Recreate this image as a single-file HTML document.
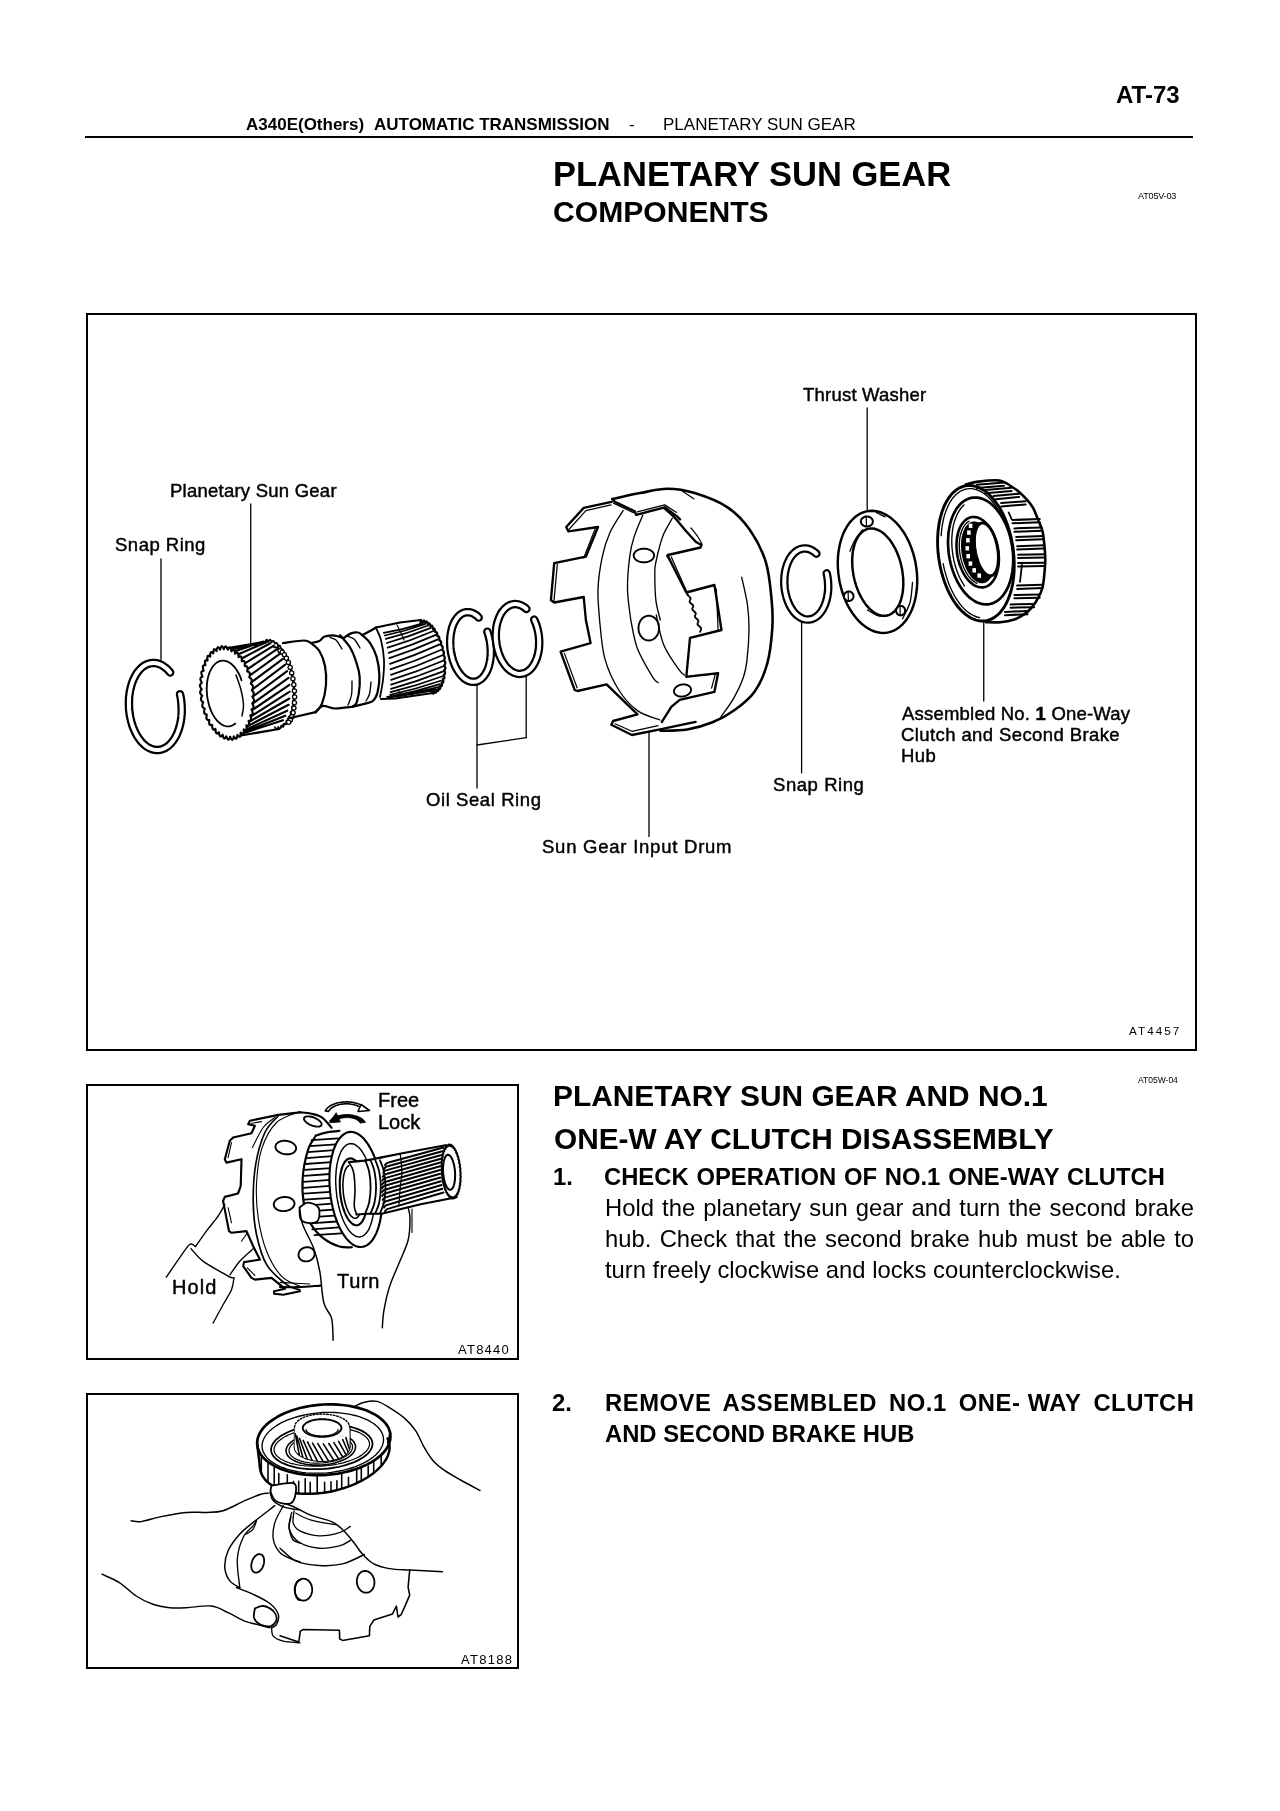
<!DOCTYPE html>
<html><head><meta charset="utf-8">
<style>
html,body{margin:0;padding:0;background:#fff;}
body{width:1280px;height:1811px;position:relative;overflow:hidden;-webkit-font-smoothing:antialiased;font-family:"Liberation Sans",sans-serif;color:#000;}
.t{position:absolute;white-space:pre;line-height:1;will-change:transform;}
.b{font-weight:bold;}
.box{position:absolute;border:2px solid #000;box-sizing:border-box;}
svg path,svg line,svg ellipse,svg polyline{fill:none;stroke:#000;stroke-linecap:round;stroke-linejoin:round;}
.lb{position:absolute;white-space:pre;line-height:1;font-size:18.5px;will-change:transform;-webkit-text-stroke:0.45px #000;}
.hr{position:absolute;background:#000;}
.p{position:absolute;will-change:transform;font-size:23.8px;line-height:31px;text-align:justify;text-align-last:left;}
</style></head><body>
<svg width="1280" height="1811" viewBox="0 0 1280 1811" style="position:absolute;left:0;top:0"><line x1="161" y1="559" x2="161" y2="662" stroke-width="1.3"/>
<line x1="250.7" y1="504" x2="250.7" y2="642.5" stroke-width="1.3"/>
<line x1="477" y1="685" x2="477" y2="788" stroke-width="1.3"/>
<line x1="526.2" y1="677" x2="526.2" y2="737.6" stroke-width="1.3"/>
<line x1="526.2" y1="737.6" x2="477" y2="745" stroke-width="1.3"/>
<line x1="649" y1="732" x2="649" y2="836.6" stroke-width="1.3"/>
<line x1="801.6" y1="617.5" x2="801.6" y2="772.8" stroke-width="1.3"/>
<line x1="867.2" y1="408" x2="867.2" y2="510.6" stroke-width="1.3"/>
<line x1="983.75" y1="621.5" x2="983.75" y2="701" stroke-width="1.3"/>
<path d="M180.0,694.2 L180.6,697.1 L181.1,700.1 L181.4,703.2 L181.6,706.2 L181.7,709.3 L181.7,712.3 L181.5,715.3 L181.2,718.3 L180.8,721.2 L180.2,724.0 L179.5,726.7 L178.7,729.4 L177.8,731.9 L176.8,734.3 L175.7,736.6 L174.4,738.7 L173.1,740.7 L171.7,742.5 L170.2,744.1 L168.7,745.6 L167.0,746.8 L165.3,747.9 L163.6,748.7 L161.8,749.4 L160.0,749.8 L158.2,750.0 L156.4,750.0 L154.5,749.8 L152.7,749.4 L150.8,748.7 L149.0,747.9 L147.2,746.9 L145.5,745.6 L143.8,744.2 L142.2,742.6 L140.6,740.8 L139.1,738.8 L137.7,736.7 L136.3,734.4 L135.1,732.0 L134.0,729.5 L132.9,726.9 L132.0,724.1 L131.2,721.3 L130.5,718.4 L129.9,715.4 L129.5,712.4 L129.1,709.4 L129.0,706.4 L128.9,703.3 L129.0,700.3 L129.1,697.3 L129.5,694.3 L129.9,691.4 L130.5,688.6 L131.2,685.9 L132.0,683.2 L132.9,680.7 L134.0,678.3 L135.1,676.1 L136.3,674.0 L137.7,672.0 L139.1,670.3 L140.6,668.7 L142.2,667.2 L143.8,666.0 L145.5,665.0 L147.2,664.2 L149.0,663.6 L150.8,663.2 L152.7,663.0 L154.5,663.0 L156.4,663.2 L158.2,663.7 L160.0,664.4 L161.8,665.2 L163.6,666.3 L165.3,667.6 L167.0,669.0 L168.7,670.7 L170.2,672.5" stroke-width="8.51" /><path d="M180.0,694.2 L180.6,697.1 L181.1,700.1 L181.4,703.2 L181.6,706.2 L181.7,709.3 L181.7,712.3 L181.5,715.3 L181.2,718.3 L180.8,721.2 L180.2,724.0 L179.5,726.7 L178.7,729.4 L177.8,731.9 L176.8,734.3 L175.7,736.6 L174.4,738.7 L173.1,740.7 L171.7,742.5 L170.2,744.1 L168.7,745.6 L167.0,746.8 L165.3,747.9 L163.6,748.7 L161.8,749.4 L160.0,749.8 L158.2,750.0 L156.4,750.0 L154.5,749.8 L152.7,749.4 L150.8,748.7 L149.0,747.9 L147.2,746.9 L145.5,745.6 L143.8,744.2 L142.2,742.6 L140.6,740.8 L139.1,738.8 L137.7,736.7 L136.3,734.4 L135.1,732.0 L134.0,729.5 L132.9,726.9 L132.0,724.1 L131.2,721.3 L130.5,718.4 L129.9,715.4 L129.5,712.4 L129.1,709.4 L129.0,706.4 L128.9,703.3 L129.0,700.3 L129.1,697.3 L129.5,694.3 L129.9,691.4 L130.5,688.6 L131.2,685.9 L132.0,683.2 L132.9,680.7 L134.0,678.3 L135.1,676.1 L136.3,674.0 L137.7,672.0 L139.1,670.3 L140.6,668.7 L142.2,667.2 L143.8,666.0 L145.5,665.0 L147.2,664.2 L149.0,663.6 L150.8,663.2 L152.7,663.0 L154.5,663.0 L156.4,663.2 L158.2,663.7 L160.0,664.4 L161.8,665.2 L163.6,666.3 L165.3,667.6 L167.0,669.0 L168.7,670.7 L170.2,672.5" stroke-width="4.03" style="stroke:#fff"/>
<path d="M487.3,631.7 L488.1,633.9 L488.7,636.2 L489.3,638.6 L489.8,640.9 L490.2,643.4 L490.5,645.8 L490.7,648.2 L490.8,650.6 L490.8,653.0 L490.7,655.4 L490.5,657.8 L490.2,660.0 L489.8,662.3 L489.3,664.4 L488.8,666.5 L488.1,668.4 L487.4,670.3 L486.5,672.0 L485.6,673.7 L484.6,675.2 L483.6,676.5 L482.5,677.7 L481.3,678.8 L480.1,679.7 L478.8,680.5 L477.5,681.1 L476.1,681.5 L474.8,681.7 L473.4,681.8 L472.0,681.7 L470.5,681.5 L469.1,681.1 L467.7,680.5 L466.3,679.7 L464.9,678.8 L463.6,677.8 L462.3,676.5 L461.0,675.2 L459.8,673.7 L458.6,672.1 L457.5,670.3 L456.4,668.4 L455.4,666.5 L454.5,664.4 L453.7,662.3 L452.9,660.1 L452.3,657.8 L451.7,655.4 L451.2,653.1 L450.8,650.6 L450.5,648.2 L450.3,645.8 L450.2,643.4 L450.2,641.0 L450.3,638.6 L450.5,636.2 L450.8,634.0 L451.2,631.7 L451.7,629.6 L452.2,627.5 L452.9,625.6 L453.6,623.7 L454.5,622.0 L455.4,620.3 L456.4,618.8 L457.4,617.5 L458.5,616.3 L459.7,615.2 L460.9,614.3 L462.2,613.5 L463.5,612.9 L464.9,612.5 L466.2,612.3 L467.6,612.2 L469.0,612.3 L470.5,612.5 L471.9,612.9 L473.3,613.5 L474.7,614.3 L476.1,615.2 L477.4,616.2 L478.7,617.5" stroke-width="8.51" /><path d="M487.3,631.7 L488.1,633.9 L488.7,636.2 L489.3,638.6 L489.8,640.9 L490.2,643.4 L490.5,645.8 L490.7,648.2 L490.8,650.6 L490.8,653.0 L490.7,655.4 L490.5,657.8 L490.2,660.0 L489.8,662.3 L489.3,664.4 L488.8,666.5 L488.1,668.4 L487.4,670.3 L486.5,672.0 L485.6,673.7 L484.6,675.2 L483.6,676.5 L482.5,677.7 L481.3,678.8 L480.1,679.7 L478.8,680.5 L477.5,681.1 L476.1,681.5 L474.8,681.7 L473.4,681.8 L472.0,681.7 L470.5,681.5 L469.1,681.1 L467.7,680.5 L466.3,679.7 L464.9,678.8 L463.6,677.8 L462.3,676.5 L461.0,675.2 L459.8,673.7 L458.6,672.1 L457.5,670.3 L456.4,668.4 L455.4,666.5 L454.5,664.4 L453.7,662.3 L452.9,660.1 L452.3,657.8 L451.7,655.4 L451.2,653.1 L450.8,650.6 L450.5,648.2 L450.3,645.8 L450.2,643.4 L450.2,641.0 L450.3,638.6 L450.5,636.2 L450.8,634.0 L451.2,631.7 L451.7,629.6 L452.2,627.5 L452.9,625.6 L453.6,623.7 L454.5,622.0 L455.4,620.3 L456.4,618.8 L457.4,617.5 L458.5,616.3 L459.7,615.2 L460.9,614.3 L462.2,613.5 L463.5,612.9 L464.9,612.5 L466.2,612.3 L467.6,612.2 L469.0,612.3 L470.5,612.5 L471.9,612.9 L473.3,613.5 L474.7,614.3 L476.1,615.2 L477.4,616.2 L478.7,617.5" stroke-width="4.03" style="stroke:#fff"/>
<path d="M534.2,619.6 L535.1,621.7 L536.0,623.9 L536.7,626.1 L537.4,628.5 L537.9,630.8 L538.4,633.2 L538.8,635.6 L539.0,638.1 L539.2,640.5 L539.2,643.0 L539.1,645.4 L539.0,647.8 L538.7,650.1 L538.3,652.4 L537.8,654.7 L537.2,656.8 L536.5,658.9 L535.7,660.8 L534.9,662.7 L533.9,664.4 L532.9,666.0 L531.8,667.5 L530.6,668.9 L529.4,670.0 L528.1,671.1 L526.7,672.0 L525.3,672.7 L523.9,673.2 L522.4,673.6 L520.9,673.8 L519.4,673.9 L517.9,673.7 L516.3,673.4 L514.8,673.0 L513.3,672.3 L511.8,671.5 L510.4,670.6 L509.0,669.4 L507.6,668.2 L506.2,666.8 L505.0,665.2 L503.8,663.5 L502.6,661.7 L501.5,659.8 L500.6,657.8 L499.6,655.7 L498.8,653.5 L498.1,651.2 L497.5,648.9 L496.9,646.5 L496.5,644.1 L496.2,641.7 L495.9,639.3 L495.8,636.8 L495.8,634.4 L495.9,632.0 L496.1,629.6 L496.4,627.2 L496.8,625.0 L497.3,622.8 L498.0,620.6 L498.7,618.6 L499.5,616.7 L500.4,614.8 L501.3,613.1 L502.4,611.6 L503.5,610.1 L504.7,608.8 L506.0,607.7 L507.3,606.7 L508.7,605.8 L510.1,605.1 L511.5,604.6 L513.0,604.3 L514.5,604.1 L516.0,604.1 L517.6,604.3 L519.1,604.7 L520.6,605.2 L522.1,605.9 L523.6,606.7 L525.0,607.7 L526.4,608.9" stroke-width="8.51" /><path d="M534.2,619.6 L535.1,621.7 L536.0,623.9 L536.7,626.1 L537.4,628.5 L537.9,630.8 L538.4,633.2 L538.8,635.6 L539.0,638.1 L539.2,640.5 L539.2,643.0 L539.1,645.4 L539.0,647.8 L538.7,650.1 L538.3,652.4 L537.8,654.7 L537.2,656.8 L536.5,658.9 L535.7,660.8 L534.9,662.7 L533.9,664.4 L532.9,666.0 L531.8,667.5 L530.6,668.9 L529.4,670.0 L528.1,671.1 L526.7,672.0 L525.3,672.7 L523.9,673.2 L522.4,673.6 L520.9,673.8 L519.4,673.9 L517.9,673.7 L516.3,673.4 L514.8,673.0 L513.3,672.3 L511.8,671.5 L510.4,670.6 L509.0,669.4 L507.6,668.2 L506.2,666.8 L505.0,665.2 L503.8,663.5 L502.6,661.7 L501.5,659.8 L500.6,657.8 L499.6,655.7 L498.8,653.5 L498.1,651.2 L497.5,648.9 L496.9,646.5 L496.5,644.1 L496.2,641.7 L495.9,639.3 L495.8,636.8 L495.8,634.4 L495.9,632.0 L496.1,629.6 L496.4,627.2 L496.8,625.0 L497.3,622.8 L498.0,620.6 L498.7,618.6 L499.5,616.7 L500.4,614.8 L501.3,613.1 L502.4,611.6 L503.5,610.1 L504.7,608.8 L506.0,607.7 L507.3,606.7 L508.7,605.8 L510.1,605.1 L511.5,604.6 L513.0,604.3 L514.5,604.1 L516.0,604.1 L517.6,604.3 L519.1,604.7 L520.6,605.2 L522.1,605.9 L523.6,606.7 L525.0,607.7 L526.4,608.9" stroke-width="4.03" style="stroke:#fff"/>
<path d="M826.7,573.3 L827.2,575.7 L827.6,578.2 L827.9,580.7 L828.1,583.2 L828.2,585.7 L828.2,588.2 L828.1,590.7 L827.8,593.1 L827.5,595.5 L827.0,597.9 L826.5,600.1 L825.8,602.3 L825.1,604.4 L824.2,606.4 L823.3,608.3 L822.3,610.1 L821.2,611.7 L820.0,613.2 L818.8,614.6 L817.5,615.8 L816.1,616.8 L814.7,617.7 L813.3,618.4 L811.8,619.0 L810.3,619.3 L808.7,619.5 L807.2,619.6 L805.6,619.4 L804.1,619.1 L802.6,618.6 L801.1,617.9 L799.6,617.0 L798.1,616.0 L796.7,614.9 L795.3,613.5 L794.0,612.1 L792.8,610.5 L791.6,608.7 L790.5,606.9 L789.4,604.9 L788.5,602.8 L787.6,600.6 L786.8,598.4 L786.2,596.0 L785.6,593.7 L785.1,591.2 L784.7,588.7 L784.5,586.3 L784.3,583.8 L784.3,581.2 L784.4,578.8 L784.5,576.3 L784.8,573.9 L785.2,571.5 L785.7,569.2 L786.3,566.9 L787.0,564.8 L787.8,562.7 L788.7,560.8 L789.6,558.9 L790.7,557.2 L791.8,555.6 L793.0,554.2 L794.3,552.9 L795.6,551.8 L797.0,550.8 L798.4,550.0 L799.9,549.3 L801.4,548.9 L802.9,548.6 L804.4,548.4 L806.0,548.5 L807.5,548.7 L809.0,549.1 L810.6,549.7 L812.1,550.5 L813.6,551.4 L815.0,552.4 L816.4,553.7" stroke-width="8.51" /><path d="M826.7,573.3 L827.2,575.7 L827.6,578.2 L827.9,580.7 L828.1,583.2 L828.2,585.7 L828.2,588.2 L828.1,590.7 L827.8,593.1 L827.5,595.5 L827.0,597.9 L826.5,600.1 L825.8,602.3 L825.1,604.4 L824.2,606.4 L823.3,608.3 L822.3,610.1 L821.2,611.7 L820.0,613.2 L818.8,614.6 L817.5,615.8 L816.1,616.8 L814.7,617.7 L813.3,618.4 L811.8,619.0 L810.3,619.3 L808.7,619.5 L807.2,619.6 L805.6,619.4 L804.1,619.1 L802.6,618.6 L801.1,617.9 L799.6,617.0 L798.1,616.0 L796.7,614.9 L795.3,613.5 L794.0,612.1 L792.8,610.5 L791.6,608.7 L790.5,606.9 L789.4,604.9 L788.5,602.8 L787.6,600.6 L786.8,598.4 L786.2,596.0 L785.6,593.7 L785.1,591.2 L784.7,588.7 L784.5,586.3 L784.3,583.8 L784.3,581.2 L784.4,578.8 L784.5,576.3 L784.8,573.9 L785.2,571.5 L785.7,569.2 L786.3,566.9 L787.0,564.8 L787.8,562.7 L788.7,560.8 L789.6,558.9 L790.7,557.2 L791.8,555.6 L793.0,554.2 L794.3,552.9 L795.6,551.8 L797.0,550.8 L798.4,550.0 L799.9,549.3 L801.4,548.9 L802.9,548.6 L804.4,548.4 L806.0,548.5 L807.5,548.7 L809.0,549.1 L810.6,549.7 L812.1,550.5 L813.6,551.4 L815.0,552.4 L816.4,553.7" stroke-width="4.03" style="stroke:#fff"/>
<path d="M224.6,649.2 L256.8,644.5 M228.8,650.1 L260.0,642.5 M232.8,652.1 L263.3,641.6 M236.7,655.1 L266.8,641.9 M240.4,659.2 L270.3,643.2 M243.7,664.1 L273.8,645.7 M246.5,669.8 L277.1,649.2 M248.9,676.2 L280.1,653.6 M250.7,682.9 L282.9,658.8 M251.8,689.9 L285.2,664.7 M252.3,697.0 L287.1,671.1 M252.1,704.0 L288.5,677.9 M251.3,710.7 L289.4,684.8 M249.9,717.0 L289.7,691.7 M247.8,722.6 L289.4,698.5 M245.2,727.4 L288.6,704.8 M242.1,731.4 L287.2,710.7 M238.6,734.3 L285.3,715.8 M234.8,736.1 L282.9,720.2" stroke-width="2.13" />
<path d="M222.0,649.0 L266.0,641.8" stroke-width="2.24" />
<path d="M232.0,737.0 L279.0,729.0" stroke-width="2.24" />
<path d="M251.8,690.2 L253.2,691.7 L253.9,693.5 L253.5,695.2 L252.3,696.7 L253.6,698.6 L254.1,700.5 L253.5,702.0 L252.2,703.2 L253.3,705.4 L253.7,707.3 L253.0,708.6 L251.5,709.4 L252.5,711.8 L252.7,713.8 L251.9,714.9 L250.3,715.3 L251.1,717.9 L251.1,719.8 L250.2,720.7 L248.6,720.7 L249.1,723.3 L249.0,725.2 L248.0,725.8 L246.4,725.4 L246.7,728.2 L246.4,729.9 L245.3,730.3 L243.7,729.4 L243.8,732.2 L243.3,733.8 L242.2,733.9 L240.7,732.7 L240.5,735.3 L239.9,736.8 L238.8,736.5 L237.4,735.0 L237.0,737.5 L236.2,738.8 L235.1,738.3 L233.8,736.4 L233.2,738.7 L232.3,739.8 L231.2,739.0 L230.1,736.8 L229.3,738.9 L228.3,739.7 L227.3,738.6 L226.3,736.3 L225.3,738.1 L224.3,738.6 L223.3,737.3 L222.6,734.7 L221.4,736.2 L220.3,736.5 L219.4,735.0 L218.9,732.3 L217.6,733.4 L216.4,733.4 L215.7,731.7 L215.4,728.9 L214.0,729.7 L212.8,729.3 L212.3,727.5 L212.2,724.8 L210.7,725.2 L209.5,724.5 L209.1,722.6 L209.3,720.0 L207.7,719.9 L206.6,719.0 L206.4,717.1 L206.8,714.5 L205.2,714.1 L204.2,712.9 L204.1,711.0 L204.7,708.6 L203.2,707.7 L202.3,706.4 L202.4,704.4 L203.2,702.3 L201.7,701.1 L200.9,699.5 L201.1,697.7 L202.2,695.8 L200.8,694.3 L200.1,692.5 L200.5,690.8 L201.7,689.3 L200.4,687.4 L199.9,685.5 L200.5,684.0 L201.8,682.8 L200.7,680.6 L200.3,678.7 L201.0,677.4 L202.5,676.6 L201.5,674.2 L201.3,672.2 L202.1,671.1 L203.7,670.7 L202.9,668.1 L202.9,666.2 L203.8,665.3 L205.4,665.3 L204.9,662.7 L205.0,660.8 L206.0,660.2 L207.6,660.6 L207.3,657.8 L207.6,656.1 L208.7,655.7 L210.3,656.6 L210.2,653.8 L210.7,652.2 L211.8,652.1 L213.3,653.3 L213.5,650.7 L214.1,649.2 L215.2,649.5 L216.6,651.0 L217.0,648.5 L217.8,647.2 L218.9,647.7 L220.2,649.6 L220.8,647.3 L221.7,646.2 L222.8,647.0 L223.9,649.2 L224.7,647.1 L225.7,646.3 L226.7,647.4 L227.7,649.7 L228.7,647.9 L229.7,647.4 L230.7,648.7 L231.4,651.3 L232.6,649.8 L233.7,649.5 L234.6,651.0 L235.1,653.7 L236.4,652.6 L237.6,652.6 L238.3,654.3 L238.6,657.1 L240.0,656.3 L241.2,656.7 L241.7,658.5 L241.8,661.2 L243.3,660.8 L244.5,661.5 L244.9,663.4 L244.7,666.0 L246.3,666.1 L247.4,667.0 L247.6,668.9 L247.2,671.5 L248.8,671.9 L249.8,673.1 L249.9,675.0 L249.3,677.4 L250.8,678.3 L251.7,679.6 L251.6,681.6 L250.8,683.7 L252.3,684.9 L253.1,686.5 L252.9,688.3 L251.8,690.2Z" stroke-width="2.13" style="fill:#fff"/>
<path d="M235.3,723.6 L234.1,724.4 L233.0,725.1 L231.7,725.7 L230.5,726.1 L229.2,726.3 L227.9,726.4 L226.6,726.3 L225.3,726.0 L223.9,725.6 L222.6,725.0 L221.3,724.2 L220.1,723.3 L218.8,722.3 L217.6,721.1 L216.4,719.8 L215.3,718.4 L214.2,716.8 L213.2,715.1 L212.2,713.3 L211.3,711.4 L210.5,709.4 L209.7,707.4 L209.1,705.3 L208.5,703.1 L208.0,700.8 L207.5,698.6 L207.2,696.3 L207.0,694.0 L206.8,691.7 L206.7,689.4 L206.8,687.1 L206.9,684.8 L207.1,682.6 L207.4,680.5 L207.8,678.4 L208.3,676.4 L208.9,674.4 L209.5,672.6 L210.3,670.9 L211.1,669.3 L211.9,667.8 L212.9,666.4 L213.9,665.2 L215.0,664.1 L216.1,663.1 L217.2,662.3 L218.4,661.7 L219.7,661.2 L221.0,660.8 L222.2,660.7 L223.6,660.7 L224.9,660.8 L226.2,661.1 L227.5,661.6 L228.8,662.3 L230.1,663.0 L231.4,664.0 L232.6,665.1 L233.8,666.3 L235.0,667.7 L236.1,669.1 L237.1,670.8 L238.1,672.5 L239.1,674.3 L240.0,676.2 L240.8,678.2 L241.5,680.3" stroke-width="1.79" />
<path d="M236.0,675.0 C236.8,677.5 239.8,685.0 241.0,690.0 C242.2,695.0 243.3,700.7 243.5,705.0 C243.7,709.3 242.2,714.2 242.0,716.0" stroke-width="1.46" />
<path d="M265.3,642.1 L265.9,640.4 L266.6,639.7 L267.5,640.2 L268.5,641.7 L269.2,640.2 L270.0,639.7 L270.8,640.5 L271.7,642.2 L272.5,641.0 L273.4,640.8 L274.2,641.8 L274.9,643.7 L275.8,642.8 L276.7,642.9 L277.5,644.1 L278.1,646.2 L279.1,645.6 L280.0,645.9 L280.6,647.3 L281.1,649.4 L282.1,649.2 L283.0,649.7 L283.6,651.3 L283.9,653.5 L285.0,653.6 L285.9,654.4 L286.3,656.1 L286.4,658.3 L287.5,658.7 L288.4,659.8 L288.7,661.5 L288.6,663.7 L289.7,664.4 L290.5,665.7 L290.7,667.5 L290.5,669.5 L291.5,670.6 L292.2,672.0 L292.3,673.8 L291.9,675.7 L292.9,677.1 L293.5,678.6 L293.4,680.4 L292.9,682.1 L293.8,683.7 L294.2,685.4 L294.0,687.0 L293.4,688.6 L294.2,690.4 L294.5,692.1 L294.2,693.7 L293.4,694.9 L294.0,696.9 L294.3,698.7 L293.8,700.1 L292.9,701.0 L293.4,703.1 L293.5,704.9 L292.9,706.1 L291.9,706.8 L292.3,709.0 L292.3,710.7 L291.6,711.7 L290.5,712.0 L290.8,714.2 L290.6,715.9 L289.8,716.6 L288.7,716.6 L288.8,718.8 L288.5,720.4 L287.6,720.8 L286.5,720.5 L286.4,722.6 L286.0,724.0 L285.1,724.2 L284.0,723.6 L283.7,725.6 L283.2,726.8 L282.3,726.7 L281.2,725.7 L280.8,727.6 L280.1,728.6 L279.2,728.3 L278.2,727.0 L277.6,728.7 L276.9,729.4 L276.0,728.8 L275.0,727.3" stroke-width="1.79" />
<path d="M274.1,647.3 L275.1,647.2 L276.2,647.3 L277.2,647.5 L278.3,648.0 L279.4,648.6 L280.5,649.4 L281.6,650.4 L282.6,651.6 L283.7,652.9 L284.7,654.4 L285.7,656.1 L286.7,657.9 L287.6,659.8 L288.5,661.8 L289.3,664.0 L290.1,666.3 L290.8,668.7 L291.5,671.2 L292.1,673.7 L292.7,676.3 L293.1,678.9 L293.6,681.6 L293.9,684.3 L294.2,687.0 L294.4,689.7 L294.5,692.4 L294.5,695.0 L294.5,697.7 L294.4,700.2 L294.2,702.7 L294.0,705.1 L293.7,707.4 L293.3,709.6 L292.8,711.7 L292.3,713.7 L291.7,715.5 L291.0,717.2 L290.3,718.7 L289.5,720.1 L288.7,721.3 L287.8,722.3 L286.9,723.2 L285.9,723.9 L284.9,724.4 L283.9,724.7 L282.9,724.8" stroke-width="1.79" />
<circle cx="280.0" cy="650.7" r="2.1" fill="#fff" stroke="#000" stroke-width="1.3"/>
<circle cx="282.2" cy="652.3" r="2.1" fill="#fff" stroke="#000" stroke-width="1.3"/>
<circle cx="284.4" cy="654.8" r="2.1" fill="#fff" stroke="#000" stroke-width="1.3"/>
<circle cx="286.4" cy="658.2" r="2.1" fill="#fff" stroke="#000" stroke-width="1.3"/>
<circle cx="288.4" cy="662.5" r="2.1" fill="#fff" stroke="#000" stroke-width="1.3"/>
<circle cx="290.2" cy="667.4" r="2.1" fill="#fff" stroke="#000" stroke-width="1.3"/>
<circle cx="291.7" cy="672.9" r="2.1" fill="#fff" stroke="#000" stroke-width="1.3"/>
<circle cx="292.9" cy="678.7" r="2.1" fill="#fff" stroke="#000" stroke-width="1.3"/>
<circle cx="293.8" cy="684.8" r="2.1" fill="#fff" stroke="#000" stroke-width="1.3"/>
<circle cx="294.4" cy="691.0" r="2.1" fill="#fff" stroke="#000" stroke-width="1.3"/>
<circle cx="294.6" cy="697.0" r="2.1" fill="#fff" stroke="#000" stroke-width="1.3"/>
<circle cx="294.4" cy="702.8" r="2.1" fill="#fff" stroke="#000" stroke-width="1.3"/>
<circle cx="293.9" cy="708.1" r="2.1" fill="#fff" stroke="#000" stroke-width="1.3"/>
<circle cx="293.1" cy="712.8" r="2.1" fill="#fff" stroke="#000" stroke-width="1.3"/>
<circle cx="291.9" cy="716.8" r="2.1" fill="#fff" stroke="#000" stroke-width="1.3"/>
<circle cx="290.4" cy="720.0" r="2.1" fill="#fff" stroke="#000" stroke-width="1.3"/>
<circle cx="288.6" cy="722.3" r="2.1" fill="#fff" stroke="#000" stroke-width="1.3"/>
<path d="M283.0,643.0 C286.5,642.6 299.3,640.5 304.0,640.5 C308.7,640.5 309.8,642.6 311.0,643.0" stroke-width="2.24" />
<path d="M311.0,643.0 C312.4,644.3 317.1,647.2 319.4,651.0 C321.7,654.8 323.9,660.3 325.0,666.0 C326.1,671.7 326.5,678.7 326.0,685.0 C325.5,691.3 323.7,699.2 322.0,703.7 C320.3,708.2 316.7,710.8 315.6,712.2" stroke-width="2.24" />
<path d="M288.0,718.5 L315.6,712.2" stroke-width="2.24" />
<path d="M311.0,643.0 C312.4,642.7 317.2,642.0 319.4,641.0 C321.6,640.0 321.8,637.7 324.0,636.7 C326.2,635.8 330.2,635.4 332.5,635.3 C334.8,635.2 336.1,635.8 338.0,636.3 C339.9,636.8 342.8,637.7 343.8,638.0" stroke-width="2.24" />
<path d="M340.0,635.3 C341.9,637.6 348.1,643.4 351.2,649.4 C354.4,655.4 357.3,665.1 358.8,671.0 C360.2,676.9 360.0,679.9 359.7,685.0 C359.4,690.1 358.0,698.3 356.9,701.9 C355.8,705.5 353.6,705.8 353.0,706.6" stroke-width="2.24" />
<path d="M315.6,712.2 C316.8,711.2 319.8,706.6 323.0,706.0 C326.2,705.4 330.0,708.4 335.0,708.5 C340.0,708.6 350.0,706.9 353.0,706.6" stroke-width="2.24" />
<path d="M330.0,637.5 C331.0,637.9 334.0,638.1 336.0,640.0 C338.0,641.9 341.0,647.5 342.0,649.0" stroke-width="1.34" />
<path d="M352.0,681.0 C351.9,683.3 352.2,691.0 351.5,695.0 C350.8,699.0 348.6,703.3 348.0,705.0" stroke-width="1.34" />
<path d="M343.8,638.0 C345.0,637.2 348.6,634.3 351.0,633.4 C353.4,632.5 356.1,632.2 358.0,632.5 C359.9,632.8 361.8,634.8 362.5,635.3" stroke-width="2.24" />
<path d="M362.5,635.3 C363.8,636.5 367.6,639.2 370.0,642.8 C372.4,646.4 375.0,651.4 376.6,656.9 C378.2,662.4 379.2,669.7 379.4,675.6 C379.5,681.5 378.6,688.3 377.5,692.5 C376.4,696.7 375.0,699.1 372.8,701.0 C370.6,702.9 365.8,703.3 364.4,703.8" stroke-width="2.24" />
<path d="M353.0,706.6 L364.4,703.8" stroke-width="2.24" />
<path d="M346.0,636.0 C347.3,636.5 351.7,637.0 354.0,639.0 C356.3,641.0 359.0,646.5 360.0,648.0" stroke-width="1.34" />
<path d="M371.0,682.0 C370.8,684.0 370.3,690.8 369.5,694.0 C368.7,697.2 366.6,699.8 366.0,701.0" stroke-width="1.34" />
<path d="M362.5,635.0 C363.8,634.3 367.8,632.2 370.0,631.0 C372.2,629.8 375.0,628.1 376.0,627.5" stroke-width="2.24" />
<path d="M376.0,627.5 L400.0,622.5 L420.9,620.0" stroke-width="2.24" />
<path d="M381.0,699.0 L395.0,698.5 L433.0,693.0" stroke-width="2.24" />
<path d="M420.4,622.7 L420.7,621.1 L421.2,620.4 L422.0,620.9 L422.8,622.4 L423.3,621.0 L423.9,620.5 L424.6,621.3 L425.3,623.0 L425.9,621.8 L426.6,621.5 L427.3,622.5 L427.9,624.2 L428.6,623.3 L429.3,623.3 L429.9,624.4 L430.5,626.3 L431.3,625.6 L432.0,625.7 L432.5,627.0 L432.9,628.9 L433.8,628.5 L434.6,628.9 L435.0,630.3 L435.3,632.2 L436.2,632.1 L436.9,632.7 L437.3,634.1 L437.4,636.1 L438.4,636.3 L439.1,637.0 L439.4,638.5 L439.4,640.4 L440.4,640.8 L441.0,641.8 L441.2,643.3 L441.0,645.0 L442.0,645.8 L442.6,646.9 L442.7,648.4 L442.4,650.0 L443.3,651.0 L443.9,652.2 L443.9,653.6 L443.4,655.0 L444.3,656.3 L444.8,657.6 L444.6,659.0 L444.1,660.2 L444.9,661.6 L445.3,663.0 L445.0,664.3 L444.3,665.2 L445.1,666.9 L445.4,668.3 L445.0,669.4 L444.2,670.1 L444.9,671.9 L445.1,673.4 L444.6,674.3 L443.8,674.7 L444.3,676.6 L444.4,678.0 L443.8,678.8 L442.9,678.9 L443.3,680.8 L443.3,682.2 L442.7,682.8 L441.7,682.6 L442.0,684.6 L441.8,685.9 L441.2,686.2 L440.2,685.8 L440.3,687.7 L440.1,688.9 L439.4,689.0 L438.4,688.3 L438.4,690.2 L438.0,691.2 L437.3,691.1 L436.3,690.1 L436.1,691.9 L435.7,692.8 L435.0,692.5 L434.1,691.2 L433.7,692.8 L433.2,693.6 L432.5,693.0 L431.6,691.6" stroke-width="2.24" />
<path d="M383.8,632.9 Q403.2,629.7 422.7,623.4 M384.8,635.5 Q405.1,631.3 425.4,624.0 M385.8,638.9 Q406.9,633.7 428.1,625.5 M386.8,643.0 Q408.8,636.9 430.8,627.9 M387.7,647.7 Q410.5,640.9 433.4,631.0 M388.6,652.8 Q412.2,645.3 435.8,634.9 M389.4,658.2 Q413.6,650.3 437.9,639.4 M390.0,663.8 Q414.9,655.6 439.8,644.4 M390.5,669.4 Q415.9,661.0 441.3,649.7 M390.9,674.8 Q416.6,666.5 442.4,655.2 M391.1,679.9 Q417.1,671.8 443.1,660.7 M391.1,684.6 Q417.2,676.9 443.4,666.2 M391.0,688.8 Q417.1,681.6 443.2,671.4 M390.7,692.2 Q416.6,685.7 442.5,676.2 M390.2,694.9 Q415.8,689.2 441.5,680.5 M389.6,696.8 Q414.8,692.0 440.0,684.1 M388.9,697.7 Q413.5,693.9 438.2,687.0 M388.1,697.7 Q412.1,694.9 436.1,689.1 M387.1,696.8 Q410.4,695.0 433.7,690.3" stroke-width="1.74" />
<path d="M376.0,628.0 C376.8,630.0 379.7,634.7 381.0,640.0 C382.3,645.3 383.7,653.3 384.0,660.0 C384.3,666.7 383.7,673.8 383.0,680.0 C382.3,686.2 380.5,694.2 380.0,697.0" stroke-width="1.79" />
<path d="M397.0,625.0 C397.7,626.3 399.8,630.5 401.0,633.0 C402.2,635.5 403.5,638.8 404.0,640.0" stroke-width="1.12" />
<path d="M398.0,690.0 L402.0,697.0" stroke-width="1.12" />
<path d="M612.2,499.1 L614.9,501.9 L634.6,511.2 L636.2,514.8" stroke-width="2.35" />
<path d="M613.5,503.2 L633.5,512.6" stroke-width="1.34" />
<path d="M636.2,514.8 L664.7,507.3 L676.7,516.1 L680.0,519.4" stroke-width="2.35" />
<path d="M637.3,511.9 L664.7,504.9 L676.2,512.3" stroke-width="1.34" />
<path d="M611.6,501.9 L583.7,507.9 L566.2,527.0 L568.4,531.4 L598.0,527.0 L585.9,556.6 L554.2,563.1 L550.9,600.3 L554.2,602.5 L583.7,597.0 L585.9,620.0" stroke-width="2.35" />
<path d="M611.1,504.9 L585.9,510.6 L569.3,529.0" stroke-width="1.23" />
<path d="M595.2,528.7 L583.7,557.9" stroke-width="1.23" />
<path d="M557.3,564.4 L554.0,600.9" stroke-width="1.23" />
<path d="M585.9,620.1 L590.6,643.1 L560.6,651.6 L574.7,690.0 L577.5,691.0 L606.6,684.4 L637.5,714.4 L613.1,721.0 L611.3,724.7 L631.9,735.0 L660.0,729.4 L695.6,721.9" stroke-width="2.35" />
<path d="M564.4,653.4 L577.1,687.8" stroke-width="1.23" />
<path d="M615.0,723.8 L631.9,731.3 L658.1,725.6" stroke-width="1.23" />
<path d="M623.1,510.6 C620.9,514.3 613.5,524.8 610.0,532.5 C606.5,540.2 604.3,547.1 602.3,556.6 C600.3,566.0 598.4,578.8 598.0,589.4 C597.5,599.9 599.3,614.9 599.6,620.0" stroke-width="1.34" />
<path d="M599.6,620.6 C600.5,626.9 601.5,646.6 604.7,658.1 C607.9,669.7 613.3,681.3 618.8,690.0 C624.2,698.8 630.6,705.6 637.5,710.6 C644.4,715.6 656.3,718.5 660.0,720.0" stroke-width="1.34" />
<path d="M642.8,515.0 C641.4,518.6 636.2,529.9 634.1,536.9 C631.9,543.8 630.8,547.8 629.7,556.6 C628.6,565.3 627.3,578.8 627.5,589.4 C627.7,599.9 630.2,614.9 630.8,620.0" stroke-width="1.34" />
<path d="M630.9,620.6 C632.0,625.3 633.9,639.4 637.5,648.8 C641.1,658.1 649.1,671.3 652.5,676.9 C655.9,682.5 657.2,681.6 658.1,682.5" stroke-width="1.34" />
<path d="M672.3,518.3 C670.7,521.4 665.2,529.6 662.5,536.9 C659.8,544.2 657.2,556.0 655.9,562.0 C654.7,568.0 654.8,566.6 654.8,573.0 C654.8,579.3 655.0,592.5 655.9,600.3 C656.8,608.1 659.6,616.7 660.3,620.0" stroke-width="1.34" />
<path d="M656.3,615.0 C657.5,620.0 660.0,635.9 663.8,645.0 C667.5,654.1 675.3,664.4 678.8,669.4 C682.2,674.4 683.4,674.1 684.4,675.0" stroke-width="1.34" />
<path d="M654.1,555.5 L654.1,556.0 L654.0,556.4 L653.9,556.9 L653.7,557.4 L653.5,557.8 L653.2,558.3 L652.9,558.7 L652.6,559.1 L652.2,559.5 L651.7,559.9 L651.2,560.2 L650.7,560.6 L650.2,560.9 L649.6,561.1 L649.0,561.4 L648.4,561.6 L647.7,561.8 L647.1,562.0 L646.4,562.1 L645.7,562.2 L645.0,562.3 L644.3,562.3 L643.5,562.3 L642.8,562.3 L642.1,562.2 L641.4,562.1 L640.7,562.0 L640.1,561.8 L639.4,561.6 L638.8,561.4 L638.2,561.1 L637.6,560.9 L637.1,560.6 L636.6,560.2 L636.1,559.9 L635.6,559.5 L635.2,559.1 L634.9,558.7 L634.6,558.3 L634.3,557.8 L634.1,557.4 L633.9,556.9 L633.8,556.4 L633.7,556.0 L633.7,555.5 L633.7,555.0 L633.8,554.6 L633.9,554.1 L634.1,553.6 L634.3,553.2 L634.6,552.7 L634.9,552.3 L635.2,551.9 L635.6,551.5 L636.1,551.1 L636.6,550.8 L637.1,550.4 L637.6,550.1 L638.2,549.9 L638.8,549.6 L639.4,549.4 L640.1,549.2 L640.7,549.0 L641.4,548.9 L642.1,548.8 L642.8,548.7 L643.5,548.7 L644.3,548.7 L645.0,548.7 L645.7,548.8 L646.4,548.9 L647.1,549.0 L647.7,549.2 L648.4,549.4 L649.0,549.6 L649.6,549.9 L650.2,550.1 L650.7,550.4 L651.2,550.8 L651.7,551.1 L652.2,551.5 L652.6,551.9 L652.9,552.3 L653.2,552.7 L653.5,553.2 L653.7,553.6 L653.9,554.1 L654.0,554.6 L654.1,555.0 L654.1,555.5" stroke-width="1.90" />
<path d="M659.0,628.1 L659.0,629.0 L658.9,629.8 L658.8,630.7 L658.7,631.5 L658.4,632.3 L658.2,633.1 L657.8,633.9 L657.5,634.7 L657.1,635.4 L656.6,636.1 L656.2,636.7 L655.6,637.3 L655.1,637.9 L654.5,638.4 L653.9,638.8 L653.3,639.2 L652.6,639.6 L651.9,639.9 L651.2,640.1 L650.5,640.3 L649.8,640.4 L649.1,640.5 L648.4,640.5 L647.7,640.4 L647.0,640.3 L646.3,640.1 L645.6,639.9 L644.9,639.6 L644.2,639.2 L643.6,638.8 L643.0,638.4 L642.4,637.9 L641.9,637.3 L641.3,636.7 L640.9,636.1 L640.4,635.4 L640.0,634.7 L639.7,633.9 L639.3,633.1 L639.1,632.3 L638.8,631.5 L638.7,630.7 L638.6,629.8 L638.5,629.0 L638.5,628.1 L638.5,627.2 L638.6,626.4 L638.7,625.5 L638.8,624.7 L639.1,623.9 L639.3,623.1 L639.7,622.3 L640.0,621.5 L640.4,620.8 L640.9,620.1 L641.3,619.5 L641.9,618.9 L642.4,618.3 L643.0,617.8 L643.6,617.4 L644.2,617.0 L644.9,616.6 L645.6,616.3 L646.3,616.1 L647.0,615.9 L647.7,615.8 L648.4,615.7 L649.1,615.7 L649.8,615.8 L650.5,615.9 L651.2,616.1 L651.9,616.3 L652.6,616.6 L653.3,617.0 L653.9,617.4 L654.5,617.8 L655.1,618.3 L655.6,618.9 L656.2,619.5 L656.6,620.1 L657.1,620.8 L657.5,621.5 L657.8,622.3 L658.2,623.1 L658.4,623.9 L658.7,624.7 L658.8,625.5 L658.9,626.4 L659.0,627.2 L659.0,628.1" stroke-width="1.90" />
<path d="M691.0,689.0 L691.0,689.4 L691.0,689.8 L691.0,690.3 L690.9,690.7 L690.8,691.1 L690.7,691.5 L690.5,692.0 L690.2,692.4 L690.0,692.8 L689.7,693.2 L689.3,693.5 L688.9,693.9 L688.5,694.2 L688.1,694.6 L687.6,694.9 L687.1,695.2 L686.6,695.4 L686.1,695.7 L685.6,695.9 L685.0,696.1 L684.4,696.2 L683.8,696.4 L683.2,696.5 L682.7,696.5 L682.1,696.6 L681.5,696.6 L680.9,696.6 L680.3,696.5 L679.7,696.5 L679.2,696.4 L678.6,696.2 L678.1,696.1 L677.6,695.9 L677.1,695.7 L676.7,695.4 L676.3,695.2 L675.9,694.9 L675.5,694.6 L675.2,694.3 L674.9,693.9 L674.6,693.6 L674.4,693.2 L674.3,692.8 L674.1,692.4 L674.0,692.0 L674.0,691.6 L674.0,691.2 L674.0,690.7 L674.1,690.3 L674.2,689.9 L674.3,689.5 L674.5,689.0 L674.8,688.6 L675.0,688.2 L675.3,687.8 L675.7,687.5 L676.1,687.1 L676.5,686.8 L676.9,686.4 L677.4,686.1 L677.9,685.8 L678.4,685.6 L678.9,685.3 L679.4,685.1 L680.0,684.9 L680.6,684.8 L681.2,684.6 L681.8,684.5 L682.3,684.5 L682.9,684.4 L683.5,684.4 L684.1,684.4 L684.7,684.5 L685.3,684.5 L685.8,684.6 L686.4,684.8 L686.9,684.9 L687.4,685.1 L687.9,685.3 L688.3,685.6 L688.7,685.8 L689.1,686.1 L689.5,686.4 L689.8,686.7 L690.1,687.1 L690.4,687.4 L690.6,687.8 L690.7,688.2 L690.9,688.6 L691.0,689.0" stroke-width="1.90" />
<path d="M664.0,508.0 C665.7,509.5 670.3,513.2 674.0,517.0 C677.7,520.8 682.3,526.8 686.0,531.0 C689.7,535.2 694.3,540.2 696.0,542.0" stroke-width="2.35" />
<path d="M691.0,528.0 C692.2,529.5 696.2,534.3 698.0,537.0 C699.8,539.7 701.3,542.8 702.0,544.0" stroke-width="1.23" />
<path d="M696.0,542.0 L701.5,545.0 L700.5,547.5 L668.0,555.0 L667.5,556.5" stroke-width="2.35" />
<path d="M667.5,555.4 L686.3,592.5 L714.4,585.0 L721.5,630.0 L690.0,637.9 L686.3,676.9 L718.1,673.1 L714.4,691.9 L679.7,699.8 L671.3,706.9 L661.9,721.9" stroke-width="2.35" />
<path d="M671.3,556.9 L688.1,594.8" stroke-width="1.23" />
<path d="M716.3,588.8 L718.1,630.0" stroke-width="1.23" />
<path d="M690.0,675.9 L715.3,674.1 L711.6,688.1" stroke-width="1.23" />
<path d="M687.0,594.4 C687.6,595.0 690.1,596.9 690.6,598.1 C691.0,599.4 689.2,600.6 689.6,601.9 C690.1,603.1 692.8,604.4 693.2,605.6 C693.6,606.9 691.8,608.1 692.3,609.4 C692.7,610.6 695.4,611.9 695.8,613.1 C696.3,614.4 694.4,615.6 694.9,616.9 C695.3,618.1 698.0,619.4 698.4,620.6 C698.9,621.9 697.1,623.1 697.5,624.4 C697.9,625.6 700.6,626.9 701.1,628.1 C701.5,629.4 700.3,631.3 700.1,631.9" stroke-width="1.79" />
<path d="M612.2,499.1 C616.8,498.1 630.8,494.8 640.0,493.1 C649.2,491.4 658.2,488.8 667.3,488.8 C676.4,488.8 684.7,490.0 694.7,493.1 C704.7,496.2 718.4,501.3 727.5,507.3 C736.6,513.3 743.0,520.1 749.4,529.2 C755.8,538.3 762.1,550.2 765.8,562.0 C769.5,573.8 770.5,589.0 771.6,600.0 C772.7,611.0 773.0,617.6 772.3,628.1 C771.6,638.6 770.2,652.8 767.3,663.3 C764.4,673.8 760.1,683.7 754.7,691.4 C749.3,699.1 742.0,704.6 735.0,709.7 C728.0,714.9 720.5,719.0 712.5,722.3 C704.5,725.6 695.9,728.0 687.2,729.4 C678.5,730.8 665.0,730.6 660.5,730.8" stroke-width="2.58" />
<path d="M741.7,577.3 C742.7,581.9 746.3,596.2 747.5,605.0 C748.7,613.8 749.1,620.8 749.0,630.0 C748.9,639.2 747.9,652.1 747.0,660.0 C746.1,667.9 745.6,670.9 743.4,677.3 C741.2,683.7 737.3,691.8 733.6,698.4 C729.9,705.0 723.1,713.7 721.0,716.7" stroke-width="1.34" />
<path d="M682.5,491.3 L693.8,498.8" stroke-width="1.23" />
<path d="M916.0,565.8 L916.6,570.0 L917.0,574.3 L917.2,578.5 L917.2,582.8 L917.0,586.9 L916.6,591.0 L916.0,595.0 L915.3,598.9 L914.3,602.6 L913.2,606.2 L911.9,609.7 L910.4,612.9 L908.8,616.0 L907.0,618.8 L905.1,621.4 L903.0,623.8 L900.8,625.9 L898.6,627.8 L896.2,629.3 L893.7,630.6 L891.1,631.6 L888.5,632.4 L885.8,632.8 L883.0,632.9 L880.3,632.8 L877.5,632.3 L874.7,631.5 L872.0,630.5 L869.3,629.1 L866.6,627.5 L863.9,625.6 L861.4,623.5 L858.9,621.1 L856.5,618.5 L854.2,615.6 L852.0,612.5 L849.9,609.2 L848.0,605.8 L846.2,602.2 L844.6,598.4 L843.1,594.5 L841.8,590.5 L840.7,586.4 L839.7,582.2 L839.0,578.0 L838.4,573.7 L838.0,569.5 L837.8,565.2 L837.8,561.0 L838.0,556.8 L838.4,552.7 L839.0,548.7 L839.7,544.9 L840.7,541.1 L841.8,537.5 L843.1,534.1 L844.6,530.8 L846.2,527.8 L848.0,524.9 L849.9,522.3 L852.0,520.0 L854.2,517.8 L856.4,516.0 L858.8,514.4 L861.3,513.1 L863.9,512.1 L866.5,511.4 L869.2,511.0 L872.0,510.8 L874.7,511.0 L877.5,511.5 L880.3,512.2 L883.0,513.3 L885.7,514.6 L888.4,516.2 L891.1,518.1 L893.6,520.3 L896.1,522.7 L898.5,525.3 L900.8,528.2 L903.0,531.2 L905.1,534.5 L907.0,538.0 L908.8,541.6 L910.4,545.4 L911.9,549.3 L913.2,553.3 L914.3,557.4 L915.3,561.6 L916.0,565.8" stroke-width="2.46" />
<path d="M901.6,567.1 L902.2,570.1 L902.6,573.1 L903.0,576.2 L903.2,579.2 L903.3,582.2 L903.3,585.1 L903.1,588.0 L902.9,590.8 L902.5,593.5 L901.9,596.1 L901.3,598.6 L900.6,601.0 L899.7,603.2 L898.7,605.3 L897.7,607.2 L896.5,608.9 L895.2,610.5 L893.9,611.8 L892.5,613.0 L891.0,614.0 L889.4,614.8 L887.8,615.3 L886.1,615.7 L884.4,615.8 L882.7,615.8 L880.9,615.5 L879.2,615.0 L877.4,614.3 L875.6,613.4 L873.8,612.2 L872.1,610.9 L870.3,609.4 L868.7,607.8 L867.0,605.9 L865.4,603.9 L863.9,601.7 L862.4,599.4 L861.0,597.0 L859.7,594.4 L858.5,591.7 L857.4,589.0 L856.3,586.1 L855.4,583.2 L854.6,580.2 L853.9,577.2 L853.3,574.2 L852.9,571.1 L852.5,568.1 L852.3,565.0 L852.2,562.0 L852.2,559.1 L852.4,556.2 L852.6,553.4 L853.0,550.7 L853.6,548.1 L854.2,545.6 L854.9,543.3 L855.8,541.0 L856.8,539.0 L857.8,537.1 L859.0,535.3 L860.3,533.8 L861.6,532.4 L863.0,531.2 L864.5,530.3 L866.1,529.5 L867.7,528.9 L869.4,528.6 L871.1,528.4 L872.8,528.5 L874.6,528.8 L876.3,529.3 L878.1,530.0 L879.9,530.9 L881.7,532.0 L883.4,533.3 L885.2,534.8 L886.8,536.5 L888.5,538.3 L890.1,540.3 L891.6,542.5 L893.1,544.8 L894.5,547.3 L895.8,549.8 L897.0,552.5 L898.1,555.3 L899.2,558.1 L900.1,561.1 L900.9,564.0 L901.6,567.1" stroke-width="2.46" />
<path d="M850.0,551.2 C850.8,549.4 852.9,543.5 855.0,540.0 C857.1,536.5 861.2,531.7 862.5,530.0" stroke-width="1.34" />
<path d="M867.5,610.0 C869.0,610.8 873.8,614.0 876.2,615.0 C878.8,616.0 881.5,616.0 882.5,616.2" stroke-width="1.34" />
<path d="M912.5,582.5 C912.1,585.8 911.7,596.5 910.0,602.5 C908.3,608.5 903.8,616.0 902.5,618.8" stroke-width="1.34" />
<path d="M876.2,512.5 L885.0,516.9" stroke-width="1.34" />
<path d="M872.9,521.5 L872.9,521.8 L872.8,522.2 L872.7,522.5 L872.6,522.9 L872.5,523.2 L872.4,523.5 L872.2,523.8 L872.0,524.1 L871.7,524.4 L871.5,524.7 L871.2,525.0 L870.9,525.2 L870.6,525.4 L870.2,525.6 L869.9,525.8 L869.5,526.0 L869.1,526.1 L868.7,526.3 L868.3,526.4 L867.9,526.4 L867.5,526.5 L867.1,526.5 L866.7,526.5 L866.2,526.5 L865.8,526.4 L865.4,526.4 L865.0,526.3 L864.6,526.1 L864.2,526.0 L863.9,525.8 L863.5,525.6 L863.2,525.4 L862.9,525.2 L862.6,525.0 L862.3,524.7 L862.0,524.4 L861.8,524.1 L861.6,523.8 L861.4,523.5 L861.2,523.2 L861.1,522.9 L861.0,522.5 L860.9,522.2 L860.9,521.8 L860.9,521.5 L860.9,521.2 L860.9,520.8 L861.0,520.5 L861.1,520.1 L861.2,519.8 L861.4,519.5 L861.6,519.2 L861.8,518.9 L862.0,518.6 L862.3,518.3 L862.6,518.0 L862.9,517.8 L863.2,517.6 L863.5,517.4 L863.9,517.2 L864.2,517.0 L864.6,516.9 L865.0,516.7 L865.4,516.6 L865.8,516.6 L866.2,516.5 L866.7,516.5 L867.1,516.5 L867.5,516.5 L867.9,516.6 L868.3,516.6 L868.7,516.7 L869.1,516.9 L869.5,517.0 L869.9,517.2 L870.2,517.4 L870.6,517.6 L870.9,517.8 L871.2,518.0 L871.5,518.3 L871.7,518.6 L872.0,518.9 L872.2,519.2 L872.4,519.5 L872.5,519.8 L872.6,520.1 L872.7,520.5 L872.8,520.8 L872.9,521.2 L872.9,521.5" stroke-width="2.02" style="fill:#fff"/>
<path d="M866.2,517.1 L866.5,525.9" stroke-width="1.23" />
<path d="M853.5,596.2 L853.5,596.6 L853.5,596.9 L853.4,597.2 L853.3,597.6 L853.2,597.9 L853.1,598.2 L852.9,598.5 L852.8,598.8 L852.6,599.0 L852.4,599.3 L852.2,599.5 L851.9,599.8 L851.7,600.0 L851.4,600.2 L851.1,600.4 L850.8,600.5 L850.5,600.7 L850.2,600.8 L849.9,600.9 L849.6,600.9 L849.2,601.0 L848.9,601.0 L848.6,601.0 L848.3,601.0 L847.9,600.9 L847.6,600.9 L847.3,600.8 L847.0,600.7 L846.7,600.5 L846.4,600.4 L846.1,600.2 L845.8,600.0 L845.6,599.8 L845.3,599.5 L845.1,599.3 L844.9,599.0 L844.7,598.8 L844.6,598.5 L844.4,598.2 L844.3,597.9 L844.2,597.6 L844.1,597.2 L844.0,596.9 L844.0,596.6 L844.0,596.2 L844.0,595.9 L844.0,595.6 L844.1,595.3 L844.2,594.9 L844.3,594.6 L844.4,594.3 L844.6,594.0 L844.7,593.7 L844.9,593.5 L845.1,593.2 L845.3,593.0 L845.6,592.7 L845.8,592.5 L846.1,592.3 L846.4,592.1 L846.7,592.0 L847.0,591.8 L847.3,591.7 L847.6,591.6 L847.9,591.6 L848.3,591.5 L848.6,591.5 L848.9,591.5 L849.2,591.5 L849.6,591.6 L849.9,591.6 L850.2,591.7 L850.5,591.8 L850.8,592.0 L851.1,592.1 L851.4,592.3 L851.7,592.5 L851.9,592.7 L852.2,593.0 L852.4,593.2 L852.6,593.5 L852.8,593.7 L852.9,594.0 L853.1,594.3 L853.2,594.6 L853.3,594.9 L853.4,595.3 L853.5,595.6 L853.5,595.9 L853.5,596.2" stroke-width="2.02" style="fill:#fff"/>
<path d="M848.1,592.1 L848.4,600.4" stroke-width="1.23" />
<path d="M905.1,610.6 L905.1,611.0 L905.1,611.3 L905.0,611.6 L905.0,611.9 L904.9,612.2 L904.7,612.6 L904.6,612.9 L904.4,613.1 L904.3,613.4 L904.1,613.7 L903.9,613.9 L903.6,614.2 L903.4,614.4 L903.1,614.6 L902.9,614.7 L902.6,614.9 L902.3,615.0 L902.0,615.1 L901.7,615.2 L901.4,615.3 L901.1,615.3 L900.8,615.4 L900.5,615.4 L900.2,615.3 L899.8,615.3 L899.5,615.2 L899.2,615.1 L898.9,615.0 L898.7,614.9 L898.4,614.7 L898.1,614.6 L897.9,614.4 L897.6,614.2 L897.4,613.9 L897.2,613.7 L897.0,613.4 L896.8,613.1 L896.7,612.9 L896.5,612.6 L896.4,612.2 L896.3,611.9 L896.2,611.6 L896.2,611.3 L896.1,611.0 L896.1,610.6 L896.1,610.3 L896.2,610.0 L896.2,609.6 L896.3,609.3 L896.4,609.0 L896.5,608.7 L896.7,608.4 L896.8,608.1 L897.0,607.8 L897.2,607.6 L897.4,607.3 L897.6,607.1 L897.9,606.9 L898.1,606.7 L898.4,606.5 L898.7,606.4 L898.9,606.2 L899.2,606.1 L899.5,606.0 L899.8,605.9 L900.2,605.9 L900.5,605.9 L900.8,605.9 L901.1,605.9 L901.4,605.9 L901.7,606.0 L902.0,606.1 L902.3,606.2 L902.6,606.4 L902.9,606.5 L903.1,606.7 L903.4,606.9 L903.6,607.1 L903.9,607.3 L904.1,607.6 L904.3,607.8 L904.4,608.1 L904.6,608.4 L904.7,608.7 L904.9,609.0 L905.0,609.3 L905.0,609.6 L905.1,610.0 L905.1,610.3 L905.1,610.6" stroke-width="2.02" style="fill:#fff"/>
<path d="M900.0,606.5 L900.2,614.8" stroke-width="1.23" />
<path d="M965.6,484.4 C967.8,483.9 973.7,482.3 978.7,481.6 C983.7,480.9 991.6,480.2 995.6,480.2 C999.7,480.2 1000.8,480.7 1003.1,481.6 C1005.5,482.4 1007.0,483.6 1009.7,485.3 C1012.3,487.0 1016.2,489.5 1019.1,491.9 C1021.9,494.2 1024.2,496.7 1026.6,499.4 C1028.9,502.0 1031.2,504.5 1033.1,507.8 C1035.0,511.1 1036.2,515.2 1037.8,519.1 C1039.4,523.0 1041.4,526.9 1042.5,531.2 C1043.6,535.6 1043.9,540.6 1044.4,545.3 C1044.8,550.0 1045.3,554.7 1045.3,559.4 C1045.3,564.1 1044.8,568.7 1044.4,573.4 C1043.9,578.1 1043.6,583.3 1042.5,587.5 C1041.4,591.7 1039.7,595.3 1037.8,598.7 C1035.9,602.2 1033.6,605.5 1031.2,608.1 C1028.9,610.8 1026.6,612.8 1023.7,614.7 C1020.9,616.6 1018.3,618.1 1014.4,619.4 C1010.5,620.6 1005.0,621.7 1000.3,622.2 C995.6,622.7 988.6,622.2 986.2,622.2" stroke-width="2.58" />
<path d="M1013.1,548.1 L1013.6,552.8 L1014.0,557.5 L1014.2,562.2 L1014.2,566.9 L1014.1,571.5 L1013.7,576.0 L1013.2,580.4 L1012.5,584.7 L1011.6,588.8 L1010.5,592.7 L1009.2,596.5 L1007.8,600.0 L1006.3,603.3 L1004.6,606.4 L1002.7,609.2 L1000.8,611.7 L998.7,614.0 L996.4,615.9 L994.1,617.6 L991.7,618.9 L989.3,619.9 L986.7,620.6 L984.1,621.0 L981.5,621.0 L978.8,620.7 L976.2,620.1 L973.5,619.2 L970.8,617.9 L968.2,616.3 L965.6,614.4 L963.0,612.2 L960.6,609.7 L958.1,607.0 L955.8,604.0 L953.6,600.7 L951.5,597.2 L949.5,593.5 L947.6,589.6 L945.9,585.5 L944.3,581.3 L942.9,576.9 L941.6,572.4 L940.5,567.9 L939.6,563.2 L938.8,558.5 L938.2,553.8 L937.8,549.0 L937.6,544.3 L937.6,539.7 L937.8,535.1 L938.1,530.6 L938.7,526.2 L939.4,521.9 L940.3,517.8 L941.4,513.8 L942.6,510.1 L944.0,506.5 L945.6,503.2 L947.3,500.2 L949.1,497.4 L951.1,494.8 L953.2,492.6 L955.4,490.6 L957.7,489.0 L960.1,487.6 L962.6,486.6 L965.1,485.9 L967.7,485.6 L970.4,485.5 L973.0,485.8 L975.7,486.4 L978.4,487.4 L981.0,488.7 L983.7,490.2 L986.3,492.1 L988.8,494.3 L991.3,496.8 L993.7,499.6 L996.0,502.6 L998.3,505.8 L1000.4,509.3 L1002.4,513.0 L1004.3,516.9 L1006.0,521.0 L1007.6,525.3 L1009.0,529.6 L1010.3,534.1 L1011.4,538.7 L1012.3,543.4 L1013.1,548.1" stroke-width="2.91" style="fill:#fff"/>
<path d="M941.2,535.7 L941.5,531.4 L942.0,527.1 L942.7,523.0 L943.5,519.0 L944.5,515.2 L945.7,511.6 L947.0,508.2 L948.5,505.0 L950.1,502.1 L951.8,499.4 L953.7,497.0 L955.7,494.9 L957.8,493.1 L960.0,491.5 L962.2,490.3 L964.6,489.4 L967.0,488.8 L969.4,488.6 L971.9,488.7 L974.4,489.1 L976.9,489.8 L979.4,490.8 L981.9,492.2 L984.4,493.8 L986.8,495.8 L989.2,498.0 L991.5,500.5 L993.8,503.3 L996.0,506.4 L998.0,509.6 L1000.0,513.1 L1001.8,516.8" stroke-width="1.34" />
<path d="M979.6,617.7 L977.0,617.0 L974.4,616.0 L971.8,614.7 L969.3,613.1 L966.8,611.2 L964.3,608.9 L961.9,606.4 L959.6,603.5 L957.4,600.4 L955.3,597.1 L953.3,593.5 L951.4,589.7 L949.6,585.7 L948.0,581.6 L946.6,577.3 L945.3,572.9 L944.1,568.3 L943.2,563.7" stroke-width="1.34" />
<path d="M1012.1,545.9 L1012.6,549.7 L1013.0,553.4 L1013.2,557.1 L1013.2,560.8 L1013.1,564.5 L1012.8,568.0 L1012.4,571.5 L1011.8,574.9 L1011.0,578.2 L1010.2,581.3 L1009.1,584.3 L1008.0,587.2 L1006.7,589.8 L1005.2,592.3 L1003.7,594.6 L1002.0,596.6 L1000.2,598.4 L998.4,600.0 L996.4,601.4 L994.4,602.5 L992.3,603.4 L990.1,604.0 L988.0,604.3 L985.7,604.4 L983.5,604.2 L981.2,603.8 L978.9,603.1 L976.6,602.2 L974.4,601.0 L972.2,599.5 L970.0,597.9 L967.9,596.0 L965.8,593.8 L963.8,591.5 L961.9,589.0 L960.1,586.3 L958.4,583.4 L956.8,580.3 L955.3,577.1 L953.9,573.8 L952.7,570.4 L951.6,566.9 L950.6,563.3 L949.8,559.6 L949.1,555.9 L948.6,552.2 L948.3,548.5 L948.1,544.7 L948.0,541.1 L948.2,537.4 L948.4,533.8 L948.9,530.3 L949.5,527.0 L950.2,523.7 L951.1,520.5 L952.1,517.5 L953.3,514.7 L954.6,512.1 L956.0,509.6 L957.6,507.3 L959.2,505.3 L961.0,503.4 L962.9,501.8 L964.8,500.5 L966.9,499.4 L968.9,498.5 L971.1,497.9 L973.3,497.6 L975.5,497.5 L977.8,497.6 L980.1,498.1 L982.3,498.8 L984.6,499.7 L986.8,500.9 L989.1,502.3 L991.2,504.0 L993.4,505.9 L995.4,508.0 L997.4,510.4 L999.3,512.9 L1001.1,515.6 L1002.9,518.5 L1004.5,521.5 L1006.0,524.7 L1007.3,528.0 L1008.6,531.5 L1009.7,535.0 L1010.6,538.6 L1011.4,542.2 L1012.1,545.9" stroke-width="2.69" />
<path d="M964.5,586.0 L962.9,583.4 L961.3,580.7 L959.8,577.7 L958.4,574.7 L957.2,571.5 L956.0,568.2 L955.0,564.8 L954.1,561.3 L953.4,557.8 L952.8,554.3 L952.3,550.7 L952.0,547.2 L951.8,543.6 L951.8,540.1 L951.9,536.6 L952.2,533.2 L952.6,529.9 L953.1,526.7 L953.8,523.6 L954.7,520.7 L955.7,517.9 L956.8,515.3 L958.0,512.8 L959.3,510.6 L960.8,508.5 L962.3,506.6 L964.0,505.0" stroke-width="1.34" />
<path d="M998.0,548.6 L998.4,551.1 L998.6,553.5 L998.8,556.0 L998.9,558.4 L998.9,560.8 L998.7,563.2 L998.5,565.5 L998.2,567.7 L997.7,569.9 L997.2,572.0 L996.6,574.0 L995.9,575.9 L995.1,577.6 L994.2,579.3 L993.2,580.8 L992.1,582.1 L991.0,583.4 L989.8,584.4 L988.6,585.4 L987.3,586.1 L986.0,586.7 L984.6,587.1 L983.2,587.4 L981.7,587.4 L980.3,587.3 L978.8,587.1 L977.3,586.6 L975.8,586.0 L974.4,585.3 L972.9,584.4 L971.5,583.3 L970.1,582.0 L968.7,580.6 L967.4,579.1 L966.1,577.5 L964.9,575.7 L963.8,573.8 L962.7,571.8 L961.7,569.7 L960.8,567.6 L959.9,565.3 L959.1,563.0 L958.5,560.6 L957.9,558.2 L957.4,555.8 L957.0,553.3 L956.8,550.9 L956.6,548.4 L956.5,546.0 L956.5,543.6 L956.7,541.2 L956.9,538.9 L957.2,536.7 L957.7,534.5 L958.2,532.4 L958.8,530.4 L959.5,528.5 L960.3,526.8 L961.2,525.1 L962.2,523.6 L963.3,522.3 L964.4,521.0 L965.6,520.0 L966.8,519.0 L968.1,518.3 L969.4,517.7 L970.8,517.3 L972.2,517.0 L973.7,517.0 L975.1,517.1 L976.6,517.3 L978.1,517.8 L979.6,518.4 L981.0,519.1 L982.5,520.0 L983.9,521.1 L985.3,522.4 L986.7,523.8 L988.0,525.3 L989.3,526.9 L990.5,528.7 L991.6,530.6 L992.7,532.6 L993.7,534.7 L994.6,536.8 L995.5,539.1 L996.3,541.4 L996.9,543.8 L997.5,546.2 L998.0,548.6" stroke-width="2.58" />
<path d="M977.0,583.3 L975.7,582.7 L974.4,581.9 L973.1,580.9 L971.9,579.8 L970.7,578.6 L969.5,577.3 L968.3,575.8 L967.2,574.2 L966.2,572.4 L965.2,570.6 L964.3,568.7 L963.4,566.7 L962.6,564.7 L961.9,562.5 L961.3,560.4 L960.7,558.1 L960.3,555.9 L959.9,553.6 L959.6,551.4 L959.4,549.1 L959.3,546.8 L959.3,544.6 L959.4,542.4 L959.5,540.3 L959.8,538.2 L960.1,536.2 L960.6,534.2 L961.1,532.4 L961.7,530.7 L962.4,529.0 L963.2,527.5 L964.0,526.1 L964.9,524.9 L965.9,523.7 L966.9,522.7 L968.0,521.9 L969.1,521.2" stroke-width="1.34" />
<path d="M994.5,549.5 L994.9,551.7 L995.1,553.8 L995.3,556.0 L995.4,558.1 L995.4,560.2 L995.3,562.3 L995.2,564.3 L994.9,566.2 L994.6,568.1 L994.2,569.9 L993.7,571.7 L993.2,573.3 L992.5,574.8 L991.8,576.3 L991.1,577.6 L990.2,578.8 L989.3,579.8 L988.4,580.7 L987.4,581.5 L986.4,582.2 L985.3,582.7 L984.2,583.0 L983.0,583.2 L981.9,583.3 L980.7,583.2 L979.5,582.9 L978.3,582.5 L977.1,582.0 L975.9,581.3 L974.7,580.5 L973.6,579.5 L972.4,578.4 L971.3,577.2 L970.2,575.8 L969.2,574.4 L968.2,572.8 L967.2,571.1 L966.3,569.4 L965.5,567.5 L964.7,565.6 L964.0,563.6 L963.3,561.6 L962.8,559.5 L962.3,557.4 L961.9,555.3 L961.5,553.1 L961.3,551.0 L961.1,548.8 L961.0,546.7 L961.0,544.6 L961.1,542.5 L961.2,540.5 L961.5,538.6 L961.8,536.7 L962.2,534.9 L962.7,533.1 L963.2,531.5 L963.9,530.0 L964.6,528.5 L965.3,527.2 L966.2,526.0 L967.1,525.0 L968.0,524.1 L969.0,523.3 L970.0,522.6 L971.1,522.1 L972.2,521.8 L973.4,521.6 L974.5,521.5 L975.7,521.6 L976.9,521.9 L978.1,522.3 L979.3,522.8 L980.5,523.5 L981.7,524.3 L982.8,525.3 L984.0,526.4 L985.1,527.6 L986.2,529.0 L987.2,530.4 L988.2,532.0 L989.2,533.7 L990.1,535.4 L990.9,537.3 L991.7,539.2 L992.4,541.2 L993.1,543.2 L993.6,545.3 L994.1,547.4 L994.5,549.5Z" stroke-width="0.11" style="fill:#000;stroke:none"/>
<path d="M997.4,547.5 L997.7,549.3 L998.0,551.1 L998.2,553.0 L998.3,554.8 L998.4,556.6 L998.4,558.4 L998.3,560.1 L998.2,561.7 L998.1,563.3 L997.8,564.9 L997.6,566.3 L997.2,567.7 L996.9,569.0 L996.4,570.2 L995.9,571.3 L995.4,572.3 L994.8,573.1 L994.2,573.9 L993.6,574.5 L992.9,575.1 L992.2,575.4 L991.4,575.7 L990.7,575.8 L989.9,575.9 L989.1,575.7 L988.2,575.5 L987.4,575.1 L986.6,574.6 L985.7,574.0 L984.9,573.2 L984.1,572.4 L983.3,571.4 L982.5,570.3 L981.7,569.1 L980.9,567.9 L980.2,566.5 L979.5,565.0 L978.8,563.5 L978.2,561.9 L977.6,560.3 L977.1,558.5 L976.6,556.8 L976.1,555.0 L975.7,553.2 L975.4,551.3 L975.1,549.5 L974.8,547.7 L974.6,545.8 L974.5,544.0 L974.4,542.2 L974.4,540.4 L974.5,538.7 L974.6,537.1 L974.7,535.5 L975.0,533.9 L975.2,532.5 L975.6,531.1 L975.9,529.8 L976.4,528.6 L976.9,527.5 L977.4,526.5 L978.0,525.7 L978.6,524.9 L979.2,524.3 L979.9,523.7 L980.6,523.4 L981.4,523.1 L982.1,523.0 L982.9,522.9 L983.7,523.1 L984.6,523.3 L985.4,523.7 L986.2,524.2 L987.1,524.8 L987.9,525.6 L988.7,526.4 L989.5,527.4 L990.3,528.5 L991.1,529.7 L991.9,530.9 L992.6,532.3 L993.3,533.8 L994.0,535.3 L994.6,536.9 L995.2,538.5 L995.7,540.3 L996.2,542.0 L996.7,543.8 L997.1,545.6 L997.4,547.5Z" stroke-width="0.11" style="fill:#fff;stroke:none"/>
<path d="M997.4,547.5 L997.7,549.3 L998.0,551.1 L998.2,553.0 L998.3,554.8 L998.4,556.6 L998.4,558.4 L998.3,560.1 L998.2,561.7 L998.1,563.3 L997.8,564.9 L997.6,566.3 L997.2,567.7 L996.9,569.0 L996.4,570.2 L995.9,571.3 L995.4,572.3 L994.8,573.1 L994.2,573.9 L993.6,574.5 L992.9,575.1 L992.2,575.4 L991.4,575.7 L990.7,575.8 L989.9,575.9 L989.1,575.7 L988.2,575.5 L987.4,575.1 L986.6,574.6 L985.7,574.0 L984.9,573.2 L984.1,572.4 L983.3,571.4 L982.5,570.3 L981.7,569.1 L980.9,567.9 L980.2,566.5 L979.5,565.0 L978.8,563.5 L978.2,561.9 L977.6,560.3 L977.1,558.5 L976.6,556.8 L976.1,555.0 L975.7,553.2 L975.4,551.3 L975.1,549.5 L974.8,547.7 L974.6,545.8 L974.5,544.0 L974.4,542.2 L974.4,540.4 L974.5,538.7 L974.6,537.1 L974.7,535.5 L975.0,533.9 L975.2,532.5 L975.6,531.1 L975.9,529.8 L976.4,528.6 L976.9,527.5 L977.4,526.5 L978.0,525.7 L978.6,524.9 L979.2,524.3 L979.9,523.7 L980.6,523.4 L981.4,523.1 L982.1,523.0 L982.9,522.9 L983.7,523.1 L984.6,523.3 L985.4,523.7 L986.2,524.2 L987.1,524.8 L987.9,525.6 L988.7,526.4 L989.5,527.4 L990.3,528.5 L991.1,529.7 L991.9,530.9 L992.6,532.3 L993.3,533.8 L994.0,535.3 L994.6,536.9 L995.2,538.5 L995.7,540.3 L996.2,542.0 L996.7,543.8 L997.1,545.6 L997.4,547.5" stroke-width="2.91" />
<path d="M968.8,523.6 L972.4,523.6 L972.4,528.0 L968.8,528.0Z" stroke-width="0.11" style="fill:#fff;stroke:none"/>
<path d="M967.1,530.4 L970.7,530.4 L970.7,534.8 L967.1,534.8Z" stroke-width="0.11" style="fill:#fff;stroke:none"/>
<path d="M966.1,538.1 L969.7,538.1 L969.7,542.5 L966.1,542.5Z" stroke-width="0.11" style="fill:#fff;stroke:none"/>
<path d="M965.5,546.1 L969.1,546.1 L969.1,550.5 L965.5,550.5Z" stroke-width="0.11" style="fill:#fff;stroke:none"/>
<path d="M966.4,554.0 L970.0,554.0 L970.0,558.4 L966.4,558.4Z" stroke-width="0.11" style="fill:#fff;stroke:none"/>
<path d="M968.6,561.4 L972.2,561.4 L972.2,565.8 L968.6,565.8Z" stroke-width="0.11" style="fill:#fff;stroke:none"/>
<path d="M972.4,568.1 L976.0,568.1 L976.0,572.5 L972.4,572.5Z" stroke-width="0.11" style="fill:#fff;stroke:none"/>
<path d="M977.4,573.4 L981.0,573.4 L981.0,577.8 L977.4,577.8Z" stroke-width="0.11" style="fill:#fff;stroke:none"/>
<path d="M976.9,484.8 L1004.1,482.5" stroke-width="2.02" />
<path d="M976.9,488.1 L1004.1,485.8" stroke-width="2.02" />
<path d="M985.3,490.0 L1011.6,487.7" stroke-width="2.02" />
<path d="M985.3,493.3 L1011.6,490.9" stroke-width="2.02" />
<path d="M993.7,496.1 L1019.1,493.7" stroke-width="2.02" />
<path d="M993.7,499.4 L1019.1,497.0" stroke-width="2.02" />
<path d="M1001.2,503.1 L1025.6,501.2" stroke-width="2.02" />
<path d="M1001.2,506.4 L1025.6,504.5" stroke-width="2.02" />
<path d="M1012.5,520.0 L1039.7,519.1" stroke-width="2.02" />
<path d="M1012.5,523.3 L1039.7,522.3" stroke-width="2.02" />
<path d="M1014.4,528.4 L1041.6,527.5" stroke-width="2.02" />
<path d="M1014.4,531.7 L1041.6,530.8" stroke-width="2.02" />
<path d="M1016.2,536.9 L1043.0,535.9" stroke-width="2.02" />
<path d="M1016.2,540.2 L1043.0,539.2" stroke-width="2.02" />
<path d="M1017.2,546.2 L1043.9,545.3" stroke-width="2.02" />
<path d="M1017.2,549.5 L1043.9,548.6" stroke-width="2.02" />
<path d="M1018.1,554.7 L1044.8,554.2" stroke-width="2.02" />
<path d="M1018.1,558.0 L1044.8,557.5" stroke-width="2.02" />
<path d="M1018.1,563.1 L1044.4,562.7" stroke-width="2.02" />
<path d="M1018.1,566.4 L1044.4,565.9" stroke-width="2.02" />
<path d="M1017.2,585.6 L1042.5,584.7" stroke-width="2.02" />
<path d="M1017.2,588.9 L1042.5,588.0" stroke-width="2.02" />
<path d="M1014.4,595.0 L1039.7,594.5" stroke-width="2.02" />
<path d="M1014.4,598.3 L1039.7,597.8" stroke-width="2.02" />
<path d="M1010.6,604.4 L1034.1,603.9" stroke-width="2.02" />
<path d="M1010.6,607.7 L1034.1,607.2" stroke-width="2.02" />
<path d="M1005.0,611.9 L1027.5,610.9" stroke-width="2.02" />
<path d="M1005.0,615.2 L1027.5,614.2" stroke-width="2.02" />
<path d="M1008.7,512.5 L1011.6,519.1" stroke-width="1.79" />
<path d="M1020.0,581.9 L1021.9,565.0" stroke-width="1.79" />
<path d="M166.3,1277.1 C168.5,1273.9 175.7,1263.3 179.6,1257.9 C183.5,1252.5 187.0,1246.4 189.7,1244.5 C192.3,1242.6 194.5,1246.2 195.5,1246.5" stroke-width="1.34" />
<path d="M195.5,1246.5 C197.3,1244.0 202.6,1236.2 206.4,1231.1 C210.1,1226.1 215.0,1220.5 218.1,1216.1 C221.2,1211.6 223.7,1206.3 224.8,1204.4" stroke-width="1.34" />
<path d="M191.0,1248.7 C193.0,1250.8 198.2,1257.5 203.0,1261.2 C207.8,1265.0 215.2,1268.6 219.8,1271.3 C224.3,1273.9 227.8,1276.0 230.1,1277.1 C232.5,1278.2 233.3,1277.8 234.0,1277.9" stroke-width="1.46" />
<path d="M234.0,1277.9 C233.6,1279.9 233.3,1285.2 231.5,1289.7 C229.6,1294.1 226.2,1299.1 223.1,1304.7 C220.0,1310.3 214.7,1320.0 213.1,1323.1" stroke-width="1.34" />
<path d="M230.1,1274.6 C231.7,1272.4 236.0,1265.5 239.8,1261.2 C243.7,1256.9 251.0,1250.8 253.2,1248.7" stroke-width="1.34" />
<path d="M241.5,1241.2 L247.3,1232.8" stroke-width="1.12" />
<path d="M237.3,1193.5 L240.7,1186.8" stroke-width="1.12" />
<path d="M300.0,1112.4 L278.3,1114.9 L249.9,1120.8 L248.2,1124.1 L254.9,1125.8 L251.5,1133.3 L233.1,1137.5 L229.8,1140.8 L224.8,1159.2 L226.4,1162.6 L241.5,1159.2 L240.7,1186.0 L238.1,1193.5 L224.8,1196.9 L223.1,1201.0 L229.0,1231.1 L231.5,1232.8 L246.5,1231.1 L253.2,1246.2 L259.9,1259.6 L244.0,1262.1 L243.2,1266.2 L251.5,1277.9 L254.9,1279.6 L271.6,1277.9 L285.0,1288.8 L274.1,1291.3 L274.1,1293.8 L283.3,1294.7 L300.0,1291.3" stroke-width="2.13" />
<path d="M228.1,1207.7 L231.5,1222.8" stroke-width="1.12" />
<path d="M247.3,1267.9 L254.9,1275.4" stroke-width="1.12" />
<path d="M231.5,1142.5 L228.1,1157.6" stroke-width="1.12" />
<path d="M251.5,1123.3 L261.6,1121.6" stroke-width="1.12" />
<path d="M278.3,1115.8 C276.0,1118.6 268.7,1124.4 264.9,1132.5 C261.1,1140.6 257.7,1152.8 255.7,1164.3 C253.8,1175.7 253.1,1189.3 253.2,1201.0 C253.3,1212.7 254.3,1223.9 256.5,1234.5 C258.8,1245.1 261.6,1256.2 266.6,1264.6 C271.6,1272.9 281.1,1280.4 286.6,1284.6 C292.2,1288.9 297.8,1289.1 300.0,1290.0" stroke-width="1.68" />
<path d="M300.0,1111.6 C296.1,1113.4 283.0,1116.2 276.6,1122.5 C270.2,1128.7 264.9,1138.9 261.6,1149.2 C258.2,1159.5 257.1,1172.9 256.5,1184.3 C256.0,1195.7 256.5,1206.6 258.2,1217.8 C259.9,1228.9 262.7,1241.4 266.6,1251.2 C270.5,1260.9 276.0,1270.4 281.6,1276.3 C287.2,1282.1 296.9,1284.6 300.0,1286.3" stroke-width="1.12" />
<path d="M274.9,1117.4 C273.0,1119.1 267.0,1122.5 263.2,1127.5 C259.5,1132.5 254.2,1144.2 252.4,1147.5" stroke-width="1.12" />
<path d="M296.1,1149.0 L296.0,1149.4 L295.8,1149.9 L295.6,1150.3 L295.4,1150.7 L295.1,1151.2 L294.8,1151.5 L294.4,1151.9 L294.0,1152.3 L293.6,1152.6 L293.1,1152.9 L292.5,1153.2 L292.0,1153.4 L291.4,1153.6 L290.8,1153.8 L290.1,1154.0 L289.5,1154.1 L288.8,1154.2 L288.1,1154.3 L287.4,1154.3 L286.7,1154.3 L285.9,1154.3 L285.2,1154.2 L284.5,1154.1 L283.8,1154.0 L283.1,1153.8 L282.4,1153.6 L281.7,1153.4 L281.1,1153.1 L280.5,1152.9 L279.9,1152.5 L279.3,1152.2 L278.7,1151.9 L278.2,1151.5 L277.8,1151.1 L277.3,1150.7 L276.9,1150.3 L276.6,1149.8 L276.3,1149.4 L276.0,1148.9 L275.8,1148.4 L275.7,1148.0 L275.6,1147.5 L275.5,1147.0 L275.5,1146.6 L275.5,1146.1 L275.6,1145.6 L275.8,1145.2 L276.0,1144.7 L276.2,1144.3 L276.5,1143.9 L276.8,1143.5 L277.2,1143.2 L277.6,1142.8 L278.0,1142.5 L278.5,1142.2 L279.1,1141.9 L279.6,1141.6 L280.2,1141.4 L280.8,1141.2 L281.5,1141.1 L282.1,1140.9 L282.8,1140.9 L283.5,1140.8 L284.2,1140.8 L284.9,1140.8 L285.7,1140.8 L286.4,1140.9 L287.1,1141.0 L287.8,1141.1 L288.5,1141.3 L289.2,1141.5 L289.9,1141.7 L290.5,1141.9 L291.1,1142.2 L291.7,1142.5 L292.3,1142.9 L292.9,1143.2 L293.4,1143.6 L293.8,1144.0 L294.3,1144.4 L294.7,1144.8 L295.0,1145.2 L295.3,1145.7 L295.6,1146.2 L295.8,1146.6 L295.9,1147.1 L296.0,1147.6 L296.1,1148.0 L296.1,1148.5 L296.1,1149.0" stroke-width="1.90" />
<path d="M294.5,1203.1 L294.5,1203.6 L294.4,1204.1 L294.4,1204.6 L294.2,1205.1 L294.0,1205.6 L293.8,1206.1 L293.5,1206.5 L293.2,1207.0 L292.8,1207.4 L292.4,1207.9 L292.0,1208.3 L291.5,1208.6 L291.0,1209.0 L290.4,1209.3 L289.8,1209.7 L289.2,1209.9 L288.6,1210.2 L287.9,1210.4 L287.2,1210.6 L286.5,1210.8 L285.8,1210.9 L285.1,1211.0 L284.4,1211.1 L283.7,1211.1 L282.9,1211.1 L282.2,1211.1 L281.5,1211.0 L280.8,1210.9 L280.2,1210.7 L279.5,1210.6 L278.9,1210.4 L278.3,1210.1 L277.7,1209.9 L277.1,1209.6 L276.6,1209.2 L276.1,1208.9 L275.7,1208.5 L275.3,1208.1 L274.9,1207.7 L274.6,1207.3 L274.4,1206.8 L274.2,1206.4 L274.0,1205.9 L273.9,1205.4 L273.8,1205.0 L273.8,1204.5 L273.8,1204.0 L273.9,1203.5 L274.0,1203.0 L274.2,1202.5 L274.4,1202.0 L274.7,1201.6 L275.0,1201.1 L275.4,1200.7 L275.8,1200.2 L276.3,1199.8 L276.8,1199.5 L277.3,1199.1 L277.8,1198.8 L278.4,1198.4 L279.1,1198.2 L279.7,1197.9 L280.4,1197.7 L281.0,1197.5 L281.7,1197.3 L282.4,1197.2 L283.2,1197.1 L283.9,1197.0 L284.6,1197.0 L285.3,1197.0 L286.0,1197.0 L286.7,1197.1 L287.4,1197.2 L288.1,1197.4 L288.8,1197.5 L289.4,1197.7 L290.0,1198.0 L290.6,1198.2 L291.1,1198.5 L291.6,1198.9 L292.1,1199.2 L292.6,1199.6 L293.0,1200.0 L293.3,1200.4 L293.6,1200.8 L293.9,1201.3 L294.1,1201.7 L294.3,1202.2 L294.4,1202.7 L294.5,1203.1" stroke-width="1.90" />
<path d="M300.0,1112.4 C301.9,1112.6 307.6,1112.8 311.2,1113.7 C314.9,1114.5 318.8,1115.2 322.2,1117.6 C325.6,1119.9 330.0,1126.1 331.6,1127.8" stroke-width="2.13" />
<path d="M321.5,1125.0 L321.4,1125.3 L321.2,1125.5 L321.0,1125.7 L320.7,1125.9 L320.5,1126.1 L320.1,1126.2 L319.8,1126.4 L319.4,1126.5 L319.0,1126.6 L318.5,1126.6 L318.0,1126.6 L317.5,1126.6 L317.0,1126.6 L316.4,1126.6 L315.8,1126.5 L315.3,1126.4 L314.7,1126.3 L314.1,1126.2 L313.4,1126.0 L312.8,1125.8 L312.2,1125.6 L311.6,1125.4 L311.0,1125.1 L310.4,1124.9 L309.8,1124.6 L309.2,1124.3 L308.7,1124.0 L308.1,1123.7 L307.6,1123.3 L307.1,1123.0 L306.7,1122.7 L306.3,1122.3 L305.9,1121.9 L305.5,1121.6 L305.2,1121.2 L304.9,1120.9 L304.6,1120.5 L304.4,1120.2 L304.3,1119.8 L304.1,1119.5 L304.0,1119.2 L304.0,1118.8 L304.0,1118.5 L304.0,1118.3 L304.1,1118.0 L304.2,1117.7 L304.4,1117.5 L304.6,1117.3 L304.9,1117.1 L305.2,1116.9 L305.5,1116.8 L305.9,1116.6 L306.2,1116.5 L306.7,1116.4 L307.1,1116.4 L307.6,1116.4 L308.1,1116.4 L308.7,1116.4 L309.2,1116.4 L309.8,1116.5 L310.4,1116.6 L311.0,1116.7 L311.6,1116.8 L312.2,1117.0 L312.8,1117.2 L313.4,1117.4 L314.0,1117.6 L314.6,1117.9 L315.2,1118.1 L315.8,1118.4 L316.4,1118.7 L316.9,1119.0 L317.5,1119.3 L318.0,1119.7 L318.5,1120.0 L318.9,1120.3 L319.4,1120.7 L319.8,1121.1 L320.1,1121.4 L320.4,1121.8 L320.7,1122.1 L321.0,1122.5 L321.2,1122.8 L321.4,1123.2 L321.5,1123.5 L321.6,1123.8 L321.6,1124.2 L321.6,1124.5 L321.6,1124.7 L321.5,1125.0" stroke-width="1.90" />
<path d="M314.4,1252.2 L314.5,1252.7 L314.6,1253.2 L314.6,1253.7 L314.6,1254.2 L314.6,1254.7 L314.5,1255.2 L314.3,1255.6 L314.2,1256.1 L314.0,1256.6 L313.7,1257.1 L313.5,1257.5 L313.2,1258.0 L312.8,1258.4 L312.5,1258.8 L312.1,1259.1 L311.6,1259.5 L311.2,1259.8 L310.7,1260.1 L310.2,1260.4 L309.7,1260.6 L309.2,1260.8 L308.7,1261.0 L308.1,1261.2 L307.6,1261.3 L307.0,1261.4 L306.4,1261.4 L305.9,1261.4 L305.3,1261.4 L304.8,1261.3 L304.2,1261.2 L303.7,1261.1 L303.2,1261.0 L302.7,1260.8 L302.2,1260.5 L301.7,1260.3 L301.3,1260.0 L300.9,1259.7 L300.5,1259.4 L300.1,1259.0 L299.8,1258.6 L299.5,1258.2 L299.3,1257.8 L299.0,1257.3 L298.9,1256.9 L298.7,1256.4 L298.6,1255.9 L298.5,1255.4 L298.5,1255.0 L298.5,1254.5 L298.6,1254.0 L298.7,1253.5 L298.8,1253.0 L298.9,1252.5 L299.1,1252.0 L299.4,1251.6 L299.7,1251.1 L300.0,1250.7 L300.3,1250.3 L300.7,1249.9 L301.1,1249.5 L301.5,1249.1 L301.9,1248.8 L302.4,1248.5 L302.9,1248.2 L303.4,1248.0 L303.9,1247.8 L304.5,1247.6 L305.0,1247.5 L305.6,1247.3 L306.1,1247.3 L306.7,1247.2 L307.3,1247.2 L307.8,1247.2 L308.4,1247.3 L308.9,1247.4 L309.4,1247.5 L310.0,1247.7 L310.5,1247.9 L310.9,1248.1 L311.4,1248.3 L311.8,1248.6 L312.3,1248.9 L312.6,1249.3 L313.0,1249.6 L313.3,1250.0 L313.6,1250.4 L313.9,1250.8 L314.1,1251.3 L314.3,1251.7 L314.4,1252.2" stroke-width="1.90" />
<path d="M280.0,1287.1 C283.1,1287.1 292.0,1287.4 298.8,1287.1 C305.5,1286.9 317.0,1285.8 320.6,1285.6" stroke-width="2.13" />
<path d="M280.0,1282.4 C282.6,1282.6 290.7,1283.0 295.6,1283.2 C300.6,1283.5 307.3,1283.9 309.7,1284.0" stroke-width="1.12" />
<path d="M315.9,1135.6 C314.6,1137.9 310.3,1142.6 308.1,1149.6 C305.9,1156.7 303.3,1168.4 302.7,1177.8 C302.0,1187.1 302.8,1198.1 304.2,1205.9 C305.7,1213.7 308.0,1219.2 311.2,1224.6 C314.5,1230.1 319.1,1235.0 323.8,1238.7 C328.4,1242.3 334.7,1245.1 339.4,1246.5 C344.1,1247.9 349.8,1247.2 351.9,1247.3" stroke-width="2.13" />
<path d="M315.9,1135.6 C317.8,1135.0 323.0,1133.2 326.9,1132.4 C330.8,1131.7 337.3,1131.1 339.4,1130.9" stroke-width="2.13" />
<path d="M311.6,1140.2 L338.2,1138.4" stroke-width="1.79" />
<path d="M309.5,1146.2 L336.1,1144.3" stroke-width="1.79" />
<path d="M307.8,1152.1 L334.3,1150.2" stroke-width="1.79" />
<path d="M306.3,1158.1 L332.9,1156.2" stroke-width="1.79" />
<path d="M305.1,1164.0 L331.7,1162.1" stroke-width="1.79" />
<path d="M304.3,1169.9 L330.8,1168.1" stroke-width="1.79" />
<path d="M303.7,1175.9 L330.3,1174.0" stroke-width="1.79" />
<path d="M303.5,1181.8 L330.0,1179.9" stroke-width="1.79" />
<path d="M303.5,1187.8 L330.1,1185.9" stroke-width="1.79" />
<path d="M303.8,1193.7 L330.4,1191.8" stroke-width="1.79" />
<path d="M304.5,1199.6 L331.0,1197.8" stroke-width="1.79" />
<path d="M305.4,1205.6 L332.0,1203.7" stroke-width="1.79" />
<path d="M306.7,1211.5 L333.2,1209.6" stroke-width="1.79" />
<path d="M308.2,1217.4 L334.8,1215.6" stroke-width="1.79" />
<path d="M310.1,1223.4 L336.6,1221.5" stroke-width="1.79" />
<path d="M312.2,1229.3 L338.8,1227.4" stroke-width="1.79" />
<path d="M314.6,1235.2 L341.2,1233.4" stroke-width="1.79" />
<path d="M381.4,1186.8 L381.8,1190.8 L382.0,1194.8 L382.1,1198.8 L382.1,1202.7 L381.9,1206.6 L381.7,1210.4 L381.3,1214.1 L380.7,1217.7 L380.1,1221.1 L379.3,1224.4 L378.4,1227.5 L377.4,1230.4 L376.3,1233.1 L375.1,1235.6 L373.8,1237.9 L372.5,1240.0 L371.0,1241.8 L369.5,1243.3 L367.8,1244.6 L366.2,1245.6 L364.5,1246.4 L362.7,1246.8 L360.9,1247.0 L359.1,1246.9 L357.3,1246.6 L355.4,1245.9 L353.6,1245.0 L351.8,1243.8 L350.0,1242.3 L348.2,1240.6 L346.5,1238.6 L344.8,1236.4 L343.1,1234.0 L341.5,1231.3 L340.0,1228.5 L338.6,1225.4 L337.2,1222.2 L336.0,1218.8 L334.8,1215.3 L333.8,1211.7 L332.8,1207.9 L332.0,1204.1 L331.2,1200.1 L330.6,1196.2 L330.1,1192.2 L329.8,1188.1 L329.5,1184.1 L329.4,1180.2 L329.5,1176.2 L329.6,1172.3 L329.9,1168.5 L330.3,1164.9 L330.8,1161.3 L331.5,1157.9 L332.3,1154.6 L333.1,1151.5 L334.1,1148.5 L335.2,1145.8 L336.4,1143.3 L337.7,1141.0 L339.1,1139.0 L340.6,1137.2 L342.1,1135.6 L343.7,1134.3 L345.4,1133.3 L347.1,1132.6 L348.8,1132.1 L350.6,1131.9 L352.5,1132.0 L354.3,1132.4 L356.1,1133.0 L358.0,1134.0 L359.8,1135.2 L361.6,1136.6 L363.4,1138.3 L365.1,1140.3 L366.8,1142.5 L368.4,1144.9 L370.0,1147.6 L371.5,1150.4 L373.0,1153.5 L374.3,1156.7 L375.6,1160.1 L376.7,1163.6 L377.8,1167.3 L378.8,1171.0 L379.6,1174.9 L380.3,1178.8 L380.9,1182.8 L381.4,1186.8" stroke-width="2.13" style="fill:#fff"/>
<path d="M373.6,1188.3 L373.9,1191.5 L374.1,1194.8 L374.3,1198.0 L374.3,1201.2 L374.2,1204.4 L374.0,1207.4 L373.8,1210.4 L373.4,1213.3 L373.0,1216.1 L372.4,1218.7 L371.8,1221.2 L371.1,1223.6 L370.3,1225.8 L369.5,1227.8 L368.6,1229.6 L367.6,1231.3 L366.5,1232.7 L365.4,1234.0 L364.3,1235.0 L363.1,1235.8 L361.8,1236.4 L360.5,1236.8 L359.2,1236.9 L357.9,1236.8 L356.6,1236.5 L355.2,1236.0 L353.9,1235.2 L352.6,1234.2 L351.2,1233.0 L349.9,1231.6 L348.6,1230.0 L347.4,1228.2 L346.2,1226.2 L345.0,1224.0 L343.9,1221.7 L342.8,1219.2 L341.8,1216.6 L340.8,1213.9 L340.0,1211.0 L339.2,1208.0 L338.4,1205.0 L337.8,1201.9 L337.2,1198.7 L336.7,1195.5 L336.4,1192.2 L336.1,1189.0 L335.9,1185.7 L335.7,1182.5 L335.7,1179.3 L335.8,1176.1 L336.0,1173.1 L336.2,1170.1 L336.6,1167.2 L337.0,1164.4 L337.6,1161.8 L338.2,1159.3 L338.9,1156.9 L339.7,1154.7 L340.5,1152.7 L341.4,1150.9 L342.4,1149.2 L343.5,1147.8 L344.6,1146.5 L345.7,1145.5 L346.9,1144.7 L348.2,1144.1 L349.5,1143.7 L350.8,1143.6 L352.1,1143.7 L353.4,1144.0 L354.8,1144.5 L356.1,1145.3 L357.4,1146.3 L358.8,1147.5 L360.1,1148.9 L361.4,1150.5 L362.6,1152.3 L363.8,1154.3 L365.0,1156.5 L366.1,1158.8 L367.2,1161.3 L368.2,1163.9 L369.2,1166.6 L370.0,1169.5 L370.8,1172.5 L371.6,1175.5 L372.2,1178.6 L372.8,1181.8 L373.3,1185.0 L373.6,1188.3" stroke-width="1.46" />
<path d="M366.6,1190.4 L366.9,1192.8 L367.0,1195.1 L367.1,1197.4 L367.1,1199.7 L367.1,1201.9 L366.9,1204.1 L366.7,1206.3 L366.5,1208.3 L366.2,1210.3 L365.8,1212.2 L365.4,1214.0 L364.9,1215.7 L364.3,1217.3 L363.7,1218.7 L363.1,1220.1 L362.4,1221.2 L361.6,1222.3 L360.9,1223.2 L360.0,1223.9 L359.2,1224.5 L358.3,1224.9 L357.4,1225.2 L356.5,1225.3 L355.5,1225.2 L354.6,1225.0 L353.6,1224.6 L352.7,1224.0 L351.7,1223.3 L350.8,1222.4 L349.9,1221.4 L349.0,1220.3 L348.1,1219.0 L347.2,1217.6 L346.4,1216.0 L345.6,1214.4 L344.8,1212.6 L344.1,1210.7 L343.4,1208.7 L342.8,1206.7 L342.2,1204.5 L341.7,1202.4 L341.2,1200.1 L340.8,1197.8 L340.5,1195.5 L340.2,1193.2 L340.0,1190.9 L339.9,1188.5 L339.8,1186.2 L339.8,1183.9 L339.8,1181.7 L339.9,1179.5 L340.1,1177.4 L340.4,1175.3 L340.7,1173.3 L341.1,1171.4 L341.5,1169.6 L342.0,1167.9 L342.5,1166.3 L343.1,1164.9 L343.8,1163.6 L344.5,1162.4 L345.2,1161.4 L346.0,1160.5 L346.8,1159.7 L347.7,1159.2 L348.6,1158.7 L349.5,1158.5 L350.4,1158.4 L351.3,1158.4 L352.3,1158.7 L353.2,1159.1 L354.2,1159.6 L355.1,1160.3 L356.1,1161.2 L357.0,1162.2 L357.9,1163.3 L358.8,1164.6 L359.7,1166.1 L360.5,1167.6 L361.3,1169.3 L362.1,1171.1 L362.8,1172.9 L363.5,1174.9 L364.1,1177.0 L364.6,1179.1 L365.2,1181.3 L365.6,1183.5 L366.0,1185.8 L366.4,1188.1 L366.6,1190.4" stroke-width="2.13" />
<path d="M362.0,1190.8 L362.2,1192.7 L362.3,1194.5 L362.4,1196.3 L362.4,1198.2 L362.4,1199.9 L362.3,1201.7 L362.2,1203.3 L362.0,1205.0 L361.8,1206.5 L361.6,1208.0 L361.3,1209.5 L361.0,1210.8 L360.6,1212.0 L360.2,1213.2 L359.7,1214.2 L359.2,1215.1 L358.7,1215.9 L358.2,1216.6 L357.6,1217.2 L357.0,1217.7 L356.4,1218.0 L355.8,1218.2 L355.1,1218.2 L354.4,1218.2 L353.8,1218.0 L353.1,1217.7 L352.4,1217.2 L351.7,1216.7 L351.1,1216.0 L350.4,1215.2 L349.7,1214.3 L349.1,1213.2 L348.5,1212.1 L347.9,1210.9 L347.3,1209.5 L346.7,1208.1 L346.2,1206.6 L345.7,1205.1 L345.3,1203.5 L344.8,1201.8 L344.5,1200.0 L344.1,1198.3 L343.8,1196.5 L343.5,1194.6 L343.3,1192.8 L343.2,1190.9 L343.0,1189.1 L343.0,1187.3 L342.9,1185.5 L342.9,1183.7 L343.0,1182.0 L343.1,1180.3 L343.3,1178.6 L343.5,1177.1 L343.7,1175.6 L344.0,1174.2 L344.4,1172.8 L344.7,1171.6 L345.1,1170.5 L345.6,1169.4 L346.1,1168.5 L346.6,1167.7 L347.1,1167.0 L347.7,1166.4 L348.3,1166.0 L348.9,1165.6 L349.6,1165.4 L350.2,1165.4 L350.9,1165.4 L351.5,1165.6 L352.2,1165.9 L352.9,1166.4 L353.6,1167.0 L354.2,1167.6 L354.9,1168.4 L355.6,1169.4 L356.2,1170.4 L356.8,1171.5 L357.4,1172.8 L358.0,1174.1 L358.6,1175.5 L359.1,1177.0 L359.6,1178.5 L360.0,1180.2 L360.5,1181.9 L360.9,1183.6 L361.2,1185.4 L361.5,1187.2 L361.8,1189.0 L362.0,1190.8" stroke-width="1.57" />
<path d="M348.8,1162.1 L364.4,1160.6 L381.6,1157.4 L405.0,1152.8 L445.6,1145.2 L456.6,1197.3 L420.6,1204.3 L381.6,1213.7 L367.5,1213.7 L356.6,1214.5 L353.4,1202.8 L351.9,1177.8Z" stroke-width="0.11" style="fill:#fff;stroke:none"/>
<path d="M348.8,1162.1 L364.4,1160.6 L373.8,1159.0 L381.6,1157.4" stroke-width="2.13" />
<path d="M356.6,1214.5 L367.5,1213.7 L381.6,1213.7" stroke-width="2.13" />
<path d="M348.8,1162.1 C349.5,1163.7 352.4,1166.8 353.4,1171.5 C354.5,1176.2 354.9,1184.5 355.0,1190.2 C355.1,1196.0 354.0,1201.8 354.2,1205.9 C354.5,1209.9 356.2,1213.0 356.6,1214.5" stroke-width="1.57" />
<path d="M365.2,1160.2 C365.8,1162.1 368.2,1167.0 369.1,1171.5 C370.0,1176.0 370.6,1181.9 370.6,1187.1 C370.6,1192.3 370.0,1198.4 369.1,1202.8 C368.2,1207.1 365.8,1211.6 365.2,1213.4" stroke-width="1.79" />
<path d="M370.6,1160.2 C371.3,1162.1 373.6,1167.0 374.5,1171.5 C375.4,1176.0 376.1,1181.9 376.1,1187.1 C376.1,1192.3 375.4,1198.4 374.5,1202.8 C373.6,1207.1 371.3,1211.6 370.6,1213.4" stroke-width="1.79" />
<path d="M375.3,1160.2 C376.0,1162.1 378.3,1167.0 379.2,1171.5 C380.1,1176.0 380.8,1181.9 380.8,1187.1 C380.8,1192.3 380.1,1198.4 379.2,1202.8 C378.3,1207.1 376.0,1211.6 375.3,1213.4" stroke-width="1.79" />
<path d="M380.0,1160.2 C380.7,1162.1 383.0,1167.0 383.9,1171.5 C384.8,1176.0 385.5,1181.9 385.5,1187.1 C385.5,1192.3 384.8,1198.4 383.9,1202.8 C383.0,1207.1 380.7,1211.6 380.0,1213.4" stroke-width="1.79" />
<path d="M381.6,1157.4 L405.0,1152.8 L445.6,1145.2" stroke-width="2.13" />
<path d="M381.6,1213.7 L420.6,1204.3 L456.6,1197.3" stroke-width="2.13" />
<path d="M385.0,1165.2 Q386.0,1162.7 389.5,1162.2 L443.5,1147.5 M384.1,1169.0 Q385.1,1166.5 388.6,1166.0 L442.4,1151.2 M383.3,1172.9 Q384.3,1170.4 387.8,1169.9 L441.6,1155.0 M382.8,1176.8 Q383.8,1174.2 387.2,1173.8 L440.9,1158.8 M382.3,1180.6 Q383.3,1178.1 386.8,1177.6 L440.4,1162.5 M382.1,1184.5 Q383.1,1182.0 386.6,1181.5 L440.1,1166.2 M382.0,1188.3 Q383.0,1185.8 386.5,1185.3 L440.0,1170.0 M382.1,1192.2 Q383.1,1189.7 386.6,1189.2 L440.1,1173.8 M382.3,1196.0 Q383.3,1193.5 386.8,1193.0 L440.4,1177.5 M382.8,1199.9 Q383.8,1197.4 387.2,1196.9 L440.9,1181.2 M383.3,1203.7 Q384.3,1201.2 387.8,1200.7 L441.6,1185.0 M384.1,1207.5 Q385.1,1205.0 388.6,1204.5 L442.4,1188.8 M385.0,1211.4 Q386.0,1208.9 389.5,1208.4 L443.5,1192.5" stroke-width="1.96" />
<path d="M400.3,1154.3 C400.6,1157.2 401.9,1166.0 401.9,1171.5 C401.9,1177.0 400.8,1181.4 400.3,1187.1 C399.8,1192.9 399.0,1202.8 398.8,1205.9" stroke-width="1.23" />
<path d="M442.1,1172.1 L441.7,1171.1 L441.5,1170.0 L441.6,1169.0 L441.9,1168.1 L441.6,1166.9 L441.4,1165.8 L441.6,1164.9 L441.9,1164.2 L441.7,1162.9 L441.6,1161.8 L441.8,1160.9 L442.2,1160.4 L442.0,1159.1 L442.0,1158.0 L442.3,1157.3 L442.7,1156.9 L442.6,1155.5 L442.6,1154.5 L443.0,1153.9 L443.4,1153.8 L443.4,1152.4 L443.5,1151.4 L443.8,1151.0 L444.3,1151.1 L444.3,1149.7 L444.5,1148.8 L444.9,1148.6 L445.4,1148.9 L445.5,1147.6 L445.7,1146.8 L446.1,1146.7 L446.6,1147.2 L446.8,1146.0 L447.0,1145.4 L447.4,1145.5 L447.9,1146.2 L448.1,1145.1 L448.5,1144.6 L448.9,1144.9 L449.3,1145.8 L449.6,1144.9 L450.0,1144.5 L450.3,1145.0 L450.7,1146.0 L451.1,1145.3 L451.5,1145.1 L451.8,1145.7 L452.2,1146.8 L452.6,1146.3 L453.0,1146.3 L453.3,1147.0 L453.6,1148.3 L454.0,1147.9 L454.4,1148.1 L454.7,1149.0 L455.0,1150.3 L455.4,1150.2 L455.8,1150.5 L456.1,1151.5 L456.2,1152.9 L456.7,1152.9 L457.1,1153.5 L457.3,1154.5 L457.4,1155.9 L457.8,1156.2 L458.2,1156.8 L458.4,1157.9 L458.3,1159.3 L458.8,1159.8 L459.1,1160.6 L459.2,1161.7 L459.1,1163.0 L459.6,1163.6 L459.9,1164.6 L459.9,1165.7 L459.7,1166.9 L460.2,1167.7 L460.4,1168.7 L460.4,1169.8 L460.1,1170.9 L460.5,1171.9 L460.7,1173.0 L460.6,1174.0 L460.3,1174.9 L460.6,1176.1 L460.8,1177.2 L460.6,1178.1 L460.2,1178.8 L460.5,1180.1 L460.6,1181.2 L460.4,1182.1 L460.0,1182.6 L460.2,1183.9 L460.2,1185.0 L459.9,1185.7 L459.5,1186.1 L459.6,1187.5 L459.5,1188.5 L459.2,1189.1 L458.8,1189.2 L458.8,1190.6 L458.7,1191.6 L458.4,1192.0 L457.9,1191.9 L457.8,1193.3 L457.7,1194.2 L457.3,1194.4 L456.8,1194.1 L456.7,1195.4 L456.5,1196.2 L456.1,1196.3 L455.6,1195.8 L455.4,1197.0 L455.1,1197.6 L454.7,1197.5 L454.3,1196.8 L454.0,1197.9 L453.7,1198.4 L453.3,1198.1 L452.9,1197.2 L452.6,1198.1 L452.2,1198.5 L451.8,1198.0 L451.5,1197.0 L451.1,1197.7 L450.7,1197.9 L450.3,1197.3 L450.0,1196.2 L449.6,1196.7 L449.2,1196.7 L448.9,1196.0 L448.6,1194.7 L448.1,1195.1 L447.7,1194.9 L447.4,1194.0 L447.2,1192.7 L446.8,1192.8 L446.4,1192.5 L446.1,1191.5 L446.0,1190.1 L445.5,1190.1 L445.1,1189.5 L444.9,1188.5 L444.8,1187.1 L444.3,1186.8 L444.0,1186.2 L443.8,1185.1 L443.9,1183.7 L443.4,1183.2 L443.0,1182.4 L443.0,1181.3 L443.1,1180.0 L442.6,1179.4 L442.3,1178.4 L442.3,1177.3 L442.4,1176.1 L442.0,1175.3 L441.8,1174.3 L441.8,1173.2 L442.1,1172.1Z" stroke-width="2.02" style="fill:#fff"/>
<path d="M455.0,1171.9 L455.1,1173.1 L455.1,1174.3 L455.1,1175.5 L455.1,1176.7 L455.0,1177.9 L455.0,1179.0 L454.9,1180.1 L454.7,1181.2 L454.6,1182.2 L454.4,1183.2 L454.2,1184.1 L453.9,1185.0 L453.7,1185.8 L453.4,1186.5 L453.1,1187.2 L452.8,1187.8 L452.4,1188.3 L452.1,1188.8 L451.7,1189.1 L451.3,1189.4 L450.9,1189.6 L450.5,1189.7 L450.1,1189.7 L449.7,1189.7 L449.2,1189.5 L448.8,1189.3 L448.4,1189.0 L448.0,1188.6 L447.6,1188.2 L447.2,1187.6 L446.8,1187.0 L446.4,1186.3 L446.0,1185.5 L445.6,1184.7 L445.3,1183.8 L445.0,1182.9 L444.7,1181.9 L444.4,1180.8 L444.1,1179.8 L443.9,1178.6 L443.7,1177.5 L443.5,1176.3 L443.4,1175.1 L443.2,1173.9 L443.1,1172.7 L443.1,1171.5 L443.0,1170.3 L443.0,1169.1 L443.0,1167.9 L443.1,1166.7 L443.2,1165.6 L443.3,1164.5 L443.4,1163.4 L443.6,1162.4 L443.7,1161.4 L444.0,1160.5 L444.2,1159.6 L444.5,1158.8 L444.7,1158.0 L445.0,1157.4 L445.4,1156.8 L445.7,1156.3 L446.1,1155.8 L446.4,1155.4 L446.8,1155.2 L447.2,1155.0 L447.6,1154.8 L448.0,1154.8 L448.5,1154.9 L448.9,1155.0 L449.3,1155.2 L449.7,1155.6 L450.1,1155.9 L450.6,1156.4 L451.0,1157.0 L451.4,1157.6 L451.7,1158.3 L452.1,1159.0 L452.5,1159.9 L452.8,1160.7 L453.1,1161.7 L453.4,1162.7 L453.7,1163.7 L454.0,1164.8 L454.2,1165.9 L454.4,1167.1 L454.6,1168.2 L454.8,1169.4 L454.9,1170.7 L455.0,1171.9" stroke-width="2.02" />
<path d="M299.5,1209.0 C299.8,1210.8 299.1,1217.6 301.1,1219.9 C303.0,1222.3 308.4,1223.1 311.2,1223.1 C314.1,1223.1 317.0,1222.3 318.3,1219.9 C319.6,1217.6 319.7,1211.6 319.1,1209.0 C318.4,1206.4 316.5,1205.4 314.4,1204.3 C312.3,1203.3 309.0,1202.2 306.6,1202.8 C304.1,1203.3 300.7,1206.7 299.5,1207.4" stroke-width="1.79" style="fill:#fff"/>
<path d="M299.5,1207.4 C300.1,1210.3 300.3,1217.9 302.7,1224.6 C305.0,1231.4 310.7,1240.2 313.6,1248.1 C316.5,1255.9 318.2,1262.4 319.8,1271.5 C321.5,1280.6 321.8,1294.9 323.8,1302.8 C325.7,1310.6 330.0,1312.1 331.6,1318.4 C333.1,1324.6 332.9,1336.6 333.1,1340.2" stroke-width="1.46" />
<path d="M408.1,1207.4 C408.4,1209.3 410.0,1212.9 410.0,1218.4 C410.0,1223.8 410.0,1232.7 408.1,1240.2 C406.2,1247.8 401.9,1255.9 398.8,1263.7 C395.6,1271.5 391.8,1279.3 389.4,1287.1 C386.9,1294.9 385.1,1303.8 383.9,1310.6 C382.7,1317.3 382.6,1324.9 382.3,1327.8" stroke-width="1.46" />
<path d="M412.0,1209.0 L412.0,1232.4" stroke-width="1.12" />
<path d="M325.2,1110.9 L325.7,1110.0 L326.3,1109.2 L326.9,1108.5 L327.7,1107.7 L328.6,1107.0 L329.5,1106.3 L330.6,1105.7 L331.7,1105.0 L332.9,1104.5 L334.2,1104.0 L335.5,1103.5 L336.9,1103.1 L338.3,1102.8 L339.8,1102.5 L341.3,1102.2 L342.9,1102.1 L344.4,1102.0 L346.0,1101.9 L347.5,1101.9 L349.1,1102.0 L350.7,1102.1 L352.2,1102.3 L353.7,1102.6 L355.2,1102.9 L356.6,1103.2 L358.0,1103.7 L359.3,1104.1 L360.5,1104.7 L361.7,1105.2 L362.8,1105.9 L363.8,1106.5 L364.7,1107.2 L365.6,1108.0 L362.5,1108.9 L361.8,1108.3 L361.0,1107.7 L360.2,1107.2 L359.3,1106.6 L358.3,1106.2 L357.2,1105.7 L356.1,1105.3 L355.0,1105.0 L353.8,1104.6 L352.6,1104.4 L351.3,1104.2 L350.0,1104.0 L348.7,1103.9 L347.4,1103.8 L346.1,1103.8 L344.7,1103.9 L343.4,1104.0 L342.1,1104.1 L340.9,1104.3 L339.6,1104.6 L338.4,1104.8 L337.2,1105.2 L336.1,1105.6 L335.1,1106.0 L334.1,1106.5 L333.1,1107.0 L332.2,1107.5 L331.4,1108.1 L330.7,1108.7 L330.1,1109.3 L329.5,1110.0 L329.0,1110.7 L328.6,1111.4Z" stroke-width="1.57" style="fill:#fff"/>
<path d="M361.0,1104.5 L369.5,1110.5 L358.0,1111.5Z" stroke-width="1.57" style="fill:#fff"/>
<path d="M329.8,1120.6 L330.4,1119.9 L331.1,1119.3 L331.8,1118.7 L332.7,1118.1 L333.6,1117.6 L334.5,1117.1 L335.6,1116.7 L336.7,1116.2 L337.8,1115.9 L339.0,1115.5 L340.2,1115.2 L341.4,1115.0 L342.7,1114.8 L344.0,1114.7 L345.3,1114.6 L346.7,1114.6 L348.0,1114.6 L349.3,1114.6 L350.6,1114.7 L351.9,1114.9 L353.2,1115.1 L354.4,1115.4 L355.6,1115.7 L356.8,1116.0 L357.9,1116.4 L359.0,1116.9 L360.0,1117.4 L360.9,1117.9 L361.8,1118.4 L362.6,1119.0 L363.3,1119.6 L363.9,1120.3 L364.5,1120.9 L365.0,1121.6 L365.4,1122.3 L360.0,1123.1 L359.8,1122.6 L359.4,1122.1 L359.0,1121.6 L358.6,1121.2 L358.1,1120.7 L357.5,1120.3 L356.9,1119.9 L356.2,1119.6 L355.5,1119.2 L354.7,1118.9 L354.0,1118.6 L353.1,1118.4 L352.3,1118.2 L351.4,1118.0 L350.5,1117.8 L349.6,1117.7 L348.6,1117.6 L347.7,1117.6 L346.8,1117.6 L345.8,1117.6 L344.9,1117.7 L344.0,1117.8 L343.1,1117.9 L342.2,1118.1 L341.3,1118.3 L340.5,1118.5 L339.6,1118.8 L338.9,1119.1 L338.1,1119.4 L337.5,1119.7 L336.8,1120.1 L336.2,1120.5 L335.7,1121.0 L335.2,1121.4 L334.8,1121.9Z" stroke-width="0.90" style="fill:#000"/>
<path d="M336.0,1113.0 L329.5,1122.5 L340.0,1122.0Z" stroke-width="0.90" style="fill:#000"/>
<path d="M131.1,1520.7 C132.8,1520.9 136.2,1522.3 141.2,1521.6 C146.2,1520.9 153.7,1518.1 161.2,1516.6 C168.8,1515.0 178.8,1513.1 186.3,1512.4 C193.8,1511.7 200.3,1512.7 206.4,1512.4 C212.5,1512.1 216.7,1512.7 223.1,1510.7 C229.5,1508.8 238.4,1503.5 244.8,1500.7 C251.2,1497.9 257.7,1495.2 261.6,1494.0 C265.5,1492.7 267.1,1493.3 268.2,1493.2" stroke-width="1.46" />
<path d="M101.9,1574.2 C104.8,1575.6 113.7,1579.0 119.4,1582.6 C125.2,1586.2 130.6,1592.4 136.2,1596.0 C141.7,1599.6 147.3,1602.4 152.9,1604.3 C158.5,1606.3 164.0,1607.1 169.6,1607.7 C175.2,1608.2 179.4,1608.0 186.3,1607.7 C193.3,1607.4 204.4,1605.2 211.4,1606.0 C218.4,1606.8 222.5,1610.2 228.1,1612.7 C233.7,1615.2 240.1,1619.1 244.8,1621.1 C249.6,1623.0 252.4,1623.3 256.5,1624.4 C260.7,1625.5 267.7,1627.2 269.9,1627.7" stroke-width="1.46" />
<path d="M254.9,1608.5 C256.3,1608.1 260.2,1605.6 263.2,1606.0 C266.3,1606.4 271.0,1608.8 273.3,1611.0 C275.5,1613.3 277.0,1616.9 276.6,1619.4 C276.2,1621.9 273.5,1625.2 270.8,1626.1 C268.0,1626.9 262.7,1625.8 259.9,1624.4 C257.1,1623.0 254.9,1620.4 254.0,1617.7 C253.2,1615.1 254.7,1610.1 254.9,1608.5" stroke-width="1.79" />
<path d="M236.5,1587.6 C239.3,1588.7 247.6,1591.7 253.2,1594.3 C258.8,1597.0 265.7,1600.2 269.9,1603.5 C274.1,1606.8 277.2,1610.9 278.3,1614.4 C279.4,1617.9 277.7,1622.2 276.6,1624.4 C275.5,1626.6 272.4,1627.2 271.6,1627.7" stroke-width="1.46" />
<path d="M271.6,1627.7 C271.9,1629.1 271.3,1633.9 273.3,1636.1 C275.2,1638.3 278.8,1640.0 283.3,1641.1 C287.7,1642.2 297.2,1642.5 300.0,1642.8" stroke-width="1.34" />
<path d="M274.9,1505.7 C271.3,1508.5 259.0,1517.7 253.2,1522.4 C247.3,1527.2 244.0,1529.4 239.8,1534.1 C235.6,1538.9 230.6,1545.3 228.1,1550.8 C225.6,1556.4 224.5,1562.5 224.8,1567.6 C225.1,1572.6 227.3,1577.6 229.8,1580.9 C232.3,1584.3 238.1,1586.5 239.8,1587.6" stroke-width="1.46" />
<path d="M239.8,1587.6 C239.4,1582.9 236.8,1567.6 237.3,1559.2 C237.9,1550.8 240.5,1543.0 243.2,1537.5 C245.8,1531.9 251.0,1528.5 253.2,1525.8 C255.4,1523.0 256.0,1521.6 256.5,1520.7" stroke-width="1.34" />
<path d="M256.5,1520.7 C256.0,1522.1 254.9,1526.9 253.2,1529.1 C251.5,1531.3 247.6,1533.3 246.5,1534.1" stroke-width="1.12" />
<path d="M263.4,1565.2 L263.2,1565.9 L263.0,1566.5 L262.7,1567.1 L262.4,1567.7 L262.1,1568.2 L261.7,1568.8 L261.4,1569.3 L261.0,1569.8 L260.6,1570.2 L260.2,1570.6 L259.8,1571.0 L259.4,1571.4 L258.9,1571.7 L258.5,1571.9 L258.0,1572.2 L257.6,1572.3 L257.1,1572.5 L256.7,1572.6 L256.2,1572.6 L255.8,1572.6 L255.4,1572.6 L255.0,1572.5 L254.6,1572.4 L254.2,1572.2 L253.8,1572.0 L253.5,1571.7 L253.1,1571.4 L252.8,1571.1 L252.6,1570.7 L252.3,1570.3 L252.1,1569.9 L251.9,1569.4 L251.7,1568.9 L251.5,1568.3 L251.4,1567.8 L251.3,1567.2 L251.3,1566.6 L251.3,1566.0 L251.3,1565.4 L251.3,1564.7 L251.4,1564.1 L251.5,1563.4 L251.6,1562.8 L251.8,1562.2 L252.0,1561.5 L252.2,1560.9 L252.5,1560.3 L252.7,1559.7 L253.0,1559.1 L253.3,1558.5 L253.7,1558.0 L254.0,1557.5 L254.4,1557.0 L254.8,1556.5 L255.2,1556.1 L255.6,1555.7 L256.1,1555.4 L256.5,1555.1 L257.0,1554.8 L257.4,1554.6 L257.8,1554.4 L258.3,1554.3 L258.7,1554.2 L259.2,1554.1 L259.6,1554.1 L260.0,1554.2 L260.5,1554.3 L260.9,1554.4 L261.2,1554.6 L261.6,1554.8 L262.0,1555.0 L262.3,1555.3 L262.6,1555.7 L262.9,1556.0 L263.1,1556.5 L263.4,1556.9 L263.6,1557.4 L263.7,1557.9 L263.9,1558.4 L264.0,1559.0 L264.1,1559.6 L264.1,1560.2 L264.1,1560.8 L264.1,1561.4 L264.1,1562.0 L264.0,1562.7 L263.9,1563.3 L263.8,1564.0 L263.6,1564.6 L263.4,1565.2" stroke-width="1.79" />
<path d="M283.3,1505.7 C281.9,1508.5 276.6,1516.8 274.9,1522.4 C273.3,1528.0 272.4,1534.1 273.3,1539.1 C274.1,1544.1 276.9,1549.2 279.9,1552.5 C283.0,1555.9 288.3,1557.7 291.7,1559.2 C295.0,1560.7 298.6,1561.3 300.0,1561.7" stroke-width="1.34" />
<path d="M291.7,1512.4 C291.2,1514.6 289.0,1521.3 289.1,1525.8 C289.3,1530.2 290.7,1536.2 292.5,1539.1 C294.3,1542.1 298.8,1542.6 300.0,1543.3" stroke-width="1.34" />
<path d="M280.0,1548.2 C282.6,1550.3 289.1,1557.9 295.6,1560.8 C302.1,1563.6 311.2,1564.9 319.1,1565.4 C326.9,1566.0 334.9,1565.7 342.5,1563.9 C350.1,1562.1 360.7,1556.1 364.4,1554.5" stroke-width="1.46" />
<path d="M290.9,1517.0 C290.7,1519.1 288.1,1525.3 289.4,1529.5 C290.7,1533.7 293.8,1538.9 298.8,1542.0 C303.7,1545.1 312.3,1547.6 319.1,1548.2 C325.8,1548.9 334.2,1547.2 339.4,1545.9 C344.6,1544.6 348.5,1541.3 350.3,1540.4" stroke-width="1.46" />
<path d="M294.1,1510.8 C293.9,1512.8 292.2,1519.9 293.3,1523.2 C294.3,1526.6 296.0,1529.0 300.3,1531.1 C304.6,1533.1 312.6,1535.5 319.1,1535.8 C325.6,1536.0 334.2,1534.2 339.4,1532.6 C344.6,1531.1 348.5,1527.4 350.3,1526.4" stroke-width="1.34" />
<path d="M295.6,1513.1 C298.2,1514.3 304.5,1518.2 311.2,1520.1 C318.0,1522.1 332.1,1524.0 336.2,1524.8" stroke-width="1.12" />
<path d="M409.7,1570.1 L408.1,1587.3 L409.7,1595.1 L405.0,1606.1 L401.1,1614.7 L398.0,1617.0 L396.4,1606.1 L392.5,1613.9 L373.8,1620.1 L369.8,1626.4 L369.4,1635.8 L342.5,1640.4 L339.7,1638.9 L339.4,1630.3 L303.4,1629.5 L300.3,1631.1 L298.8,1642.0 L280.0,1635.8" stroke-width="1.57" />
<path d="M312.2,1589.7 L312.2,1590.4 L312.1,1591.2 L312.0,1591.9 L311.8,1592.7 L311.7,1593.4 L311.4,1594.1 L311.2,1594.8 L310.9,1595.5 L310.5,1596.1 L310.1,1596.7 L309.7,1597.3 L309.3,1597.8 L308.8,1598.3 L308.3,1598.7 L307.8,1599.1 L307.3,1599.5 L306.7,1599.8 L306.1,1600.1 L305.6,1600.3 L305.0,1600.4 L304.4,1600.5 L303.7,1600.6 L303.1,1600.6 L302.5,1600.5 L301.9,1600.4 L301.3,1600.3 L300.7,1600.1 L300.2,1599.8 L299.6,1599.5 L299.1,1599.1 L298.5,1598.7 L298.1,1598.3 L297.6,1597.8 L297.1,1597.3 L296.7,1596.7 L296.4,1596.1 L296.0,1595.5 L295.7,1594.8 L295.4,1594.1 L295.2,1593.4 L295.0,1592.7 L294.9,1591.9 L294.8,1591.2 L294.7,1590.4 L294.7,1589.7 L294.7,1588.9 L294.8,1588.1 L294.9,1587.4 L295.0,1586.6 L295.2,1585.9 L295.4,1585.2 L295.7,1584.5 L296.0,1583.9 L296.4,1583.2 L296.7,1582.6 L297.1,1582.1 L297.6,1581.5 L298.1,1581.0 L298.5,1580.6 L299.1,1580.2 L299.6,1579.8 L300.2,1579.5 L300.7,1579.3 L301.3,1579.0 L301.9,1578.9 L302.5,1578.8 L303.1,1578.7 L303.7,1578.7 L304.4,1578.8 L305.0,1578.9 L305.6,1579.0 L306.1,1579.3 L306.7,1579.5 L307.3,1579.8 L307.8,1580.2 L308.3,1580.6 L308.8,1581.0 L309.3,1581.5 L309.7,1582.1 L310.1,1582.6 L310.5,1583.2 L310.9,1583.9 L311.2,1584.5 L311.4,1585.2 L311.7,1585.9 L311.8,1586.6 L312.0,1587.4 L312.1,1588.1 L312.2,1588.9 L312.2,1589.7" stroke-width="1.79" />
<path d="M374.3,1580.6 L374.4,1581.4 L374.4,1582.1 L374.4,1582.9 L374.4,1583.7 L374.3,1584.4 L374.2,1585.1 L374.0,1585.9 L373.8,1586.6 L373.5,1587.2 L373.2,1587.9 L372.9,1588.5 L372.6,1589.1 L372.2,1589.6 L371.7,1590.1 L371.3,1590.6 L370.8,1591.0 L370.3,1591.4 L369.8,1591.8 L369.2,1592.1 L368.6,1592.3 L368.0,1592.5 L367.4,1592.6 L366.8,1592.7 L366.2,1592.7 L365.6,1592.7 L365.0,1592.6 L364.4,1592.5 L363.8,1592.3 L363.2,1592.1 L362.6,1591.8 L362.0,1591.5 L361.5,1591.1 L361.0,1590.7 L360.4,1590.2 L360.0,1589.7 L359.5,1589.2 L359.1,1588.6 L358.7,1588.0 L358.3,1587.4 L358.0,1586.7 L357.7,1586.0 L357.5,1585.3 L357.3,1584.6 L357.1,1583.8 L357.0,1583.1 L356.9,1582.3 L356.8,1581.5 L356.8,1580.8 L356.9,1580.0 L357.0,1579.3 L357.1,1578.6 L357.3,1577.8 L357.5,1577.1 L357.7,1576.5 L358.0,1575.8 L358.3,1575.2 L358.7,1574.6 L359.1,1574.1 L359.5,1573.5 L360.0,1573.1 L360.5,1572.6 L361.0,1572.3 L361.5,1571.9 L362.1,1571.6 L362.6,1571.4 L363.2,1571.2 L363.8,1571.1 L364.4,1571.0 L365.0,1570.9 L365.6,1571.0 L366.2,1571.0 L366.9,1571.2 L367.5,1571.3 L368.1,1571.6 L368.6,1571.9 L369.2,1572.2 L369.8,1572.6 L370.3,1573.0 L370.8,1573.4 L371.3,1573.9 L371.7,1574.5 L372.2,1575.1 L372.6,1575.7 L372.9,1576.3 L373.2,1577.0 L373.5,1577.7 L373.8,1578.4 L374.0,1579.1 L374.2,1579.9 L374.3,1580.6" stroke-width="1.79" />
<path d="M300.0,1600.2 L299.7,1600.1 L299.3,1600.1 L299.0,1599.9 L298.6,1599.8 L298.3,1599.6 L298.0,1599.3 L297.7,1599.0 L297.4,1598.6 L297.1,1598.2 L296.8,1597.8 L296.5,1597.3 L296.3,1596.8 L296.1,1596.3 L295.9,1595.7 L295.7,1595.1 L295.5,1594.5 L295.4,1593.9 L295.2,1593.2 L295.1,1592.6 L295.1,1591.9 L295.0,1591.2 L295.0,1590.5 L295.0,1589.8 L295.0,1589.1 L295.1,1588.4 L295.1,1587.7 L295.2,1587.0 L295.4,1586.4 L295.5,1585.7 L295.7,1585.1 L295.9,1584.5 L296.1,1584.0 L296.3,1583.4 L296.5,1582.9 L296.8,1582.4 L297.1,1582.0 L297.4,1581.6 L297.7,1581.3 L298.0,1581.0 L298.3,1580.7 L298.6,1580.5 L299.0,1580.3 L299.3,1580.2 L299.7,1580.1 L300.0,1580.1" stroke-width="1.79" />
<path d="M355.0,1406.1 C356.6,1405.4 360.7,1402.9 364.4,1402.2 C368.0,1401.4 372.7,1400.5 376.9,1401.4 C381.0,1402.3 384.7,1404.8 389.4,1407.6 C394.1,1410.5 400.6,1414.7 405.0,1418.6 C409.4,1422.5 412.8,1426.4 415.9,1431.1 C419.1,1435.8 420.9,1441.7 423.8,1446.7 C426.6,1451.6 429.7,1456.8 433.1,1460.8 C436.5,1464.7 439.6,1467.0 444.1,1470.1 C448.5,1473.2 453.7,1476.1 459.7,1479.5 C465.7,1482.9 476.6,1488.6 480.0,1490.4" stroke-width="1.46" />
<path d="M280.0,1501.4 C282.6,1502.4 290.4,1505.3 295.6,1507.6 C300.8,1510.0 305.3,1513.1 311.2,1515.4 C317.2,1517.8 326.4,1519.3 331.6,1521.7 C336.8,1524.0 338.9,1526.1 342.5,1529.5 C346.1,1532.9 350.1,1537.8 353.4,1542.0 C356.8,1546.2 359.4,1550.9 362.8,1554.5 C366.2,1558.1 369.3,1561.5 373.8,1563.9 C378.2,1566.2 383.4,1567.5 389.4,1568.6 C395.4,1569.6 400.8,1569.6 409.7,1570.1 C418.5,1570.6 437.0,1571.4 442.5,1571.7" stroke-width="1.46" />
<path d="M387.5,1438.5 L388.5,1440.8 L389.2,1443.1 L389.5,1445.6 L389.6,1448.0 L389.3,1450.6 L388.7,1453.1 L387.8,1455.7 L386.6,1458.3 L385.1,1460.9 L383.3,1463.4 L381.2,1466.0 L378.8,1468.5 L376.2,1470.9 L373.3,1473.2 L370.2,1475.5 L366.9,1477.7 L363.3,1479.8 L359.6,1481.7 L355.7,1483.6 L351.6,1485.3 L347.5,1486.9 L343.2,1488.3 L338.8,1489.6 L334.4,1490.7 L329.9,1491.7 L325.4,1492.5 L320.8,1493.1 L316.3,1493.5 L311.9,1493.8 L307.5,1493.8 L303.2,1493.7 L299.0,1493.5 L294.9,1493.0 L290.9,1492.4 L287.2,1491.5 L283.6,1490.6 L280.2,1489.4 L277.0,1488.1 L274.1,1486.6 L271.4,1485.0 L269.0,1483.3 L266.8,1481.4 L264.9,1479.4 L263.4,1477.3 L262.1,1475.1 L261.1,1472.8 L260.4,1470.5 L260.1,1468.0 L260.0,1465.6" stroke-width="2.46" />
<path d="M257.1,1443.2 L260.2,1469.3" stroke-width="2.46" />
<path d="M390.2,1433.3 L388.7,1441.3" stroke-width="2.24" />
<path d="M261.3,1473.4 L261.3,1457.7 M268.0,1482.6 L268.0,1462.5 M274.2,1486.6 L274.2,1466.7 M278.8,1488.8 L278.8,1473.6 M287.3,1491.5 L287.3,1474.7 M293.5,1492.8 L293.5,1481.6 M298.7,1493.5 L298.7,1481.2 M305.2,1493.8 L305.2,1478.7 M310.2,1493.8 L310.2,1482.4 M317.2,1493.5 L317.2,1476.0 M324.6,1492.6 L324.6,1482.4 M331.0,1491.5 L331.0,1481.8 M336.9,1490.1 L336.9,1480.9 M341.7,1488.8 L341.7,1473.9 M348.5,1486.5 L348.5,1477.3 M356.7,1483.1 L356.7,1469.7 M361.3,1480.8 L361.3,1467.4 M368.2,1476.9 L368.2,1466.0 M373.7,1472.9 L373.7,1461.0 M381.2,1466.0 L381.2,1455.2 M387.9,1439.3 L387.9,1443.8" stroke-width="1.57" />
<path d="M390.4,1435.1 L390.4,1437.6 L390.1,1440.1 L389.5,1442.5 L388.5,1445.0 L387.3,1447.4 L385.7,1449.8 L383.8,1452.2 L381.6,1454.5 L379.2,1456.7 L376.4,1458.8 L373.4,1460.8 L370.2,1462.8 L366.8,1464.6 L363.1,1466.3 L359.2,1467.9 L355.2,1469.3 L351.0,1470.6 L346.7,1471.8 L342.3,1472.7 L337.8,1473.6 L333.2,1474.2 L328.6,1474.7 L323.9,1475.1 L319.3,1475.2 L314.6,1475.2 L310.1,1475.0 L305.5,1474.6 L301.1,1474.1 L296.8,1473.4 L292.6,1472.5 L288.6,1471.5 L284.7,1470.3 L281.0,1469.0 L277.6,1467.5 L274.3,1465.9 L271.3,1464.2 L268.6,1462.4 L266.1,1460.4 L263.9,1458.3 L262.0,1456.2 L260.4,1454.0 L259.1,1451.7 L258.2,1449.3 L257.5,1446.9 L257.2,1444.5 L257.2,1442.0 L257.5,1439.5 L258.1,1437.1 L259.1,1434.6 L260.3,1432.2 L261.9,1429.8 L263.8,1427.4 L266.0,1425.1 L268.4,1422.9 L271.2,1420.8 L274.2,1418.8 L277.4,1416.8 L280.8,1415.0 L284.5,1413.3 L288.4,1411.7 L292.4,1410.3 L296.6,1409.0 L300.9,1407.8 L305.3,1406.9 L309.8,1406.0 L314.4,1405.4 L319.0,1404.9 L323.7,1404.5 L328.3,1404.4 L333.0,1404.4 L337.5,1404.6 L342.1,1405.0 L346.5,1405.5 L350.8,1406.2 L355.0,1407.1 L359.0,1408.1 L362.9,1409.3 L366.6,1410.6 L370.0,1412.1 L373.3,1413.7 L376.3,1415.4 L379.0,1417.2 L381.5,1419.2 L383.7,1421.3 L385.6,1423.4 L387.2,1425.6 L388.5,1427.9 L389.4,1430.3 L390.1,1432.7 L390.4,1435.1" stroke-width="2.69" />
<path d="M383.5,1438.6 L383.5,1440.7 L383.2,1442.8 L382.6,1444.9 L381.7,1447.0 L380.5,1449.1 L379.1,1451.2 L377.3,1453.2 L375.4,1455.2 L373.1,1457.1 L370.6,1458.9 L367.9,1460.7 L364.9,1462.4 L361.8,1463.9 L358.5,1465.4 L355.0,1466.8 L351.3,1468.0 L347.5,1469.1 L343.5,1470.1 L339.5,1471.0 L335.4,1471.7 L331.2,1472.3 L327.0,1472.8 L322.8,1473.1 L318.6,1473.2 L314.3,1473.2 L310.2,1473.1 L306.1,1472.8 L302.0,1472.3 L298.1,1471.7 L294.3,1471.0 L290.6,1470.1 L287.1,1469.2 L283.8,1468.0 L280.6,1466.8 L277.7,1465.4 L275.0,1463.9 L272.5,1462.4 L270.2,1460.7 L268.2,1458.9 L266.5,1457.1 L265.1,1455.2 L263.9,1453.2 L263.0,1451.2 L262.4,1449.1 L262.1,1447.0 L262.1,1444.9 L262.4,1442.8 L263.0,1440.7 L263.9,1438.6 L265.1,1436.5 L266.5,1434.4 L268.3,1432.4 L270.2,1430.4 L272.5,1428.5 L275.0,1426.7 L277.7,1424.9 L280.7,1423.2 L283.8,1421.7 L287.1,1420.2 L290.6,1418.8 L294.3,1417.6 L298.1,1416.5 L302.1,1415.5 L306.1,1414.6 L310.2,1413.9 L314.4,1413.3 L318.6,1412.8 L322.8,1412.5 L327.0,1412.4 L331.3,1412.4 L335.4,1412.5 L339.5,1412.8 L343.6,1413.3 L347.5,1413.9 L351.3,1414.6 L355.0,1415.5 L358.5,1416.4 L361.8,1417.6 L365.0,1418.8 L367.9,1420.2 L370.6,1421.7 L373.1,1423.2 L375.4,1424.9 L377.4,1426.7 L379.1,1428.5 L380.5,1430.4 L381.7,1432.4 L382.6,1434.4 L383.2,1436.5 L383.5,1438.6" stroke-width="1.34" />
<path d="M372.5,1443.3 L372.5,1444.8 L372.2,1446.4 L371.7,1447.9 L370.9,1449.5 L369.9,1451.0 L368.7,1452.6 L367.3,1454.1 L365.6,1455.5 L363.7,1457.0 L361.6,1458.3 L359.3,1459.6 L356.9,1460.9 L354.2,1462.1 L351.4,1463.2 L348.5,1464.2 L345.4,1465.2 L342.2,1466.0 L338.9,1466.8 L335.6,1467.4 L332.1,1468.0 L328.6,1468.5 L325.1,1468.8 L321.6,1469.1 L318.0,1469.2 L314.5,1469.2 L311.0,1469.1 L307.6,1469.0 L304.3,1468.7 L301.0,1468.3 L297.8,1467.8 L294.7,1467.1 L291.8,1466.4 L289.0,1465.6 L286.4,1464.7 L284.0,1463.7 L281.7,1462.7 L279.6,1461.5 L277.8,1460.3 L276.1,1459.0 L274.7,1457.7 L273.5,1456.3 L272.6,1454.9 L271.8,1453.4 L271.4,1451.9 L271.1,1450.3 L271.1,1448.8 L271.4,1447.2 L271.9,1445.7 L272.7,1444.1 L273.7,1442.6 L274.9,1441.0 L276.3,1439.5 L278.0,1438.1 L279.9,1436.6 L282.0,1435.3 L284.3,1434.0 L286.7,1432.7 L289.4,1431.5 L292.2,1430.4 L295.1,1429.4 L298.2,1428.4 L301.4,1427.6 L304.7,1426.8 L308.0,1426.2 L311.5,1425.6 L315.0,1425.1 L318.5,1424.8 L322.0,1424.5 L325.6,1424.4 L329.1,1424.4 L332.6,1424.5 L336.0,1424.6 L339.3,1424.9 L342.6,1425.3 L345.8,1425.8 L348.9,1426.5 L351.8,1427.2 L354.6,1428.0 L357.2,1428.9 L359.6,1429.9 L361.9,1430.9 L364.0,1432.1 L365.8,1433.3 L367.5,1434.6 L368.9,1435.9 L370.1,1437.3 L371.0,1438.7 L371.8,1440.2 L372.2,1441.7 L372.5,1443.3" stroke-width="1.79" />
<path d="M369.5,1443.5 L369.5,1444.8 L369.2,1446.2 L368.7,1447.5 L368.0,1448.9 L367.1,1450.2 L365.9,1451.5 L364.5,1452.8 L362.9,1454.1 L361.2,1455.4 L359.2,1456.6 L357.0,1457.7 L354.7,1458.8 L352.2,1459.8 L349.6,1460.8 L346.8,1461.7 L343.9,1462.6 L340.9,1463.3 L337.8,1464.0 L334.6,1464.6 L331.4,1465.1 L328.1,1465.5 L324.8,1465.8 L321.5,1466.1 L318.1,1466.2 L314.8,1466.2 L311.6,1466.2 L308.3,1466.0 L305.2,1465.8 L302.1,1465.5 L299.1,1465.1 L296.2,1464.5 L293.5,1463.9 L290.9,1463.3 L288.4,1462.5 L286.1,1461.7 L284.0,1460.8 L282.1,1459.8 L280.3,1458.7 L278.8,1457.6 L277.5,1456.5 L276.3,1455.3 L275.4,1454.0 L274.8,1452.8 L274.3,1451.5 L274.1,1450.1 L274.1,1448.8 L274.4,1447.4 L274.9,1446.1 L275.6,1444.7 L276.5,1443.4 L277.7,1442.1 L279.1,1440.8 L280.7,1439.5 L282.4,1438.2 L284.4,1437.0 L286.6,1435.9 L288.9,1434.8 L291.4,1433.8 L294.0,1432.8 L296.8,1431.9 L299.7,1431.0 L302.7,1430.3 L305.8,1429.6 L309.0,1429.0 L312.2,1428.5 L315.5,1428.1 L318.8,1427.8 L322.1,1427.5 L325.5,1427.4 L328.8,1427.4 L332.0,1427.4 L335.3,1427.6 L338.4,1427.8 L341.5,1428.1 L344.5,1428.5 L347.4,1429.1 L350.1,1429.7 L352.7,1430.3 L355.2,1431.1 L357.5,1431.9 L359.6,1432.8 L361.5,1433.8 L363.3,1434.9 L364.8,1436.0 L366.1,1437.1 L367.3,1438.3 L368.2,1439.6 L368.8,1440.8 L369.3,1442.1 L369.5,1443.5" stroke-width="1.23" />
<path d="M355.5,1446.4 L355.5,1447.5 L355.3,1448.6 L355.0,1449.8 L354.5,1450.9 L353.8,1452.0 L353.0,1453.2 L352.0,1454.2 L350.8,1455.3 L349.5,1456.3 L348.1,1457.3 L346.6,1458.3 L344.9,1459.2 L343.1,1460.0 L341.1,1460.8 L339.1,1461.6 L337.0,1462.3 L334.9,1462.9 L332.6,1463.4 L330.3,1463.9 L327.9,1464.3 L325.6,1464.6 L323.1,1464.9 L320.7,1465.0 L318.3,1465.1 L315.9,1465.1 L313.5,1465.1 L311.1,1464.9 L308.8,1464.7 L306.6,1464.4 L304.4,1464.0 L302.3,1463.6 L300.3,1463.0 L298.4,1462.4 L296.6,1461.8 L294.9,1461.0 L293.4,1460.3 L292.0,1459.4 L290.7,1458.5 L289.5,1457.6 L288.6,1456.6 L287.7,1455.6 L287.1,1454.5 L286.6,1453.5 L286.2,1452.3 L286.1,1451.2 L286.1,1450.1 L286.3,1449.0 L286.6,1447.8 L287.1,1446.7 L287.8,1445.6 L288.6,1444.4 L289.6,1443.4 L290.8,1442.3 L292.1,1441.3 L293.5,1440.3 L295.0,1439.3 L296.7,1438.4 L298.5,1437.6 L300.5,1436.8 L302.5,1436.0 L304.6,1435.3 L306.7,1434.7 L309.0,1434.2 L311.3,1433.7 L313.7,1433.3 L316.0,1433.0 L318.5,1432.7 L320.9,1432.6 L323.3,1432.5 L325.7,1432.5 L328.1,1432.5 L330.5,1432.7 L332.8,1432.9 L335.0,1433.2 L337.2,1433.6 L339.3,1434.0 L341.3,1434.6 L343.2,1435.2 L345.0,1435.8 L346.7,1436.6 L348.2,1437.3 L349.6,1438.2 L350.9,1439.1 L352.1,1440.0 L353.0,1441.0 L353.9,1442.0 L354.5,1443.1 L355.0,1444.1 L355.4,1445.3 L355.5,1446.4" stroke-width="1.57" />
<path d="M352.5,1446.6 L352.5,1447.6 L352.4,1448.6 L352.0,1449.6 L351.6,1450.6 L350.9,1451.6 L350.2,1452.5 L349.3,1453.5 L348.2,1454.4 L347.0,1455.3 L345.7,1456.2 L344.3,1457.0 L342.8,1457.8 L341.1,1458.6 L339.4,1459.3 L337.5,1460.0 L335.6,1460.6 L333.6,1461.1 L331.5,1461.6 L329.4,1462.0 L327.3,1462.4 L325.1,1462.7 L322.9,1462.9 L320.7,1463.0 L318.5,1463.1 L316.3,1463.1 L314.1,1463.1 L311.9,1463.0 L309.8,1462.8 L307.8,1462.5 L305.8,1462.2 L303.9,1461.8 L302.1,1461.3 L300.3,1460.8 L298.7,1460.2 L297.1,1459.6 L295.7,1458.9 L294.4,1458.2 L293.3,1457.4 L292.2,1456.6 L291.3,1455.7 L290.6,1454.8 L290.0,1453.9 L289.5,1453.0 L289.2,1452.0 L289.1,1451.0 L289.1,1450.0 L289.2,1449.0 L289.6,1448.0 L290.0,1447.0 L290.7,1446.0 L291.4,1445.1 L292.3,1444.1 L293.4,1443.2 L294.6,1442.3 L295.9,1441.4 L297.3,1440.6 L298.8,1439.8 L300.5,1439.0 L302.2,1438.3 L304.1,1437.6 L306.0,1437.0 L308.0,1436.5 L310.1,1436.0 L312.2,1435.6 L314.3,1435.2 L316.5,1434.9 L318.7,1434.7 L320.9,1434.6 L323.1,1434.5 L325.3,1434.5 L327.5,1434.5 L329.7,1434.6 L331.8,1434.8 L333.8,1435.1 L335.8,1435.4 L337.7,1435.8 L339.5,1436.3 L341.3,1436.8 L342.9,1437.4 L344.5,1438.0 L345.9,1438.7 L347.2,1439.4 L348.3,1440.2 L349.4,1441.0 L350.3,1441.9 L351.0,1442.8 L351.6,1443.7 L352.1,1444.6 L352.4,1445.6 L352.5,1446.6" stroke-width="1.23" />
<path d="M349.6,1447.0 L349.5,1448.0 L349.3,1448.9 L349.0,1449.9 L348.5,1450.9 L347.9,1451.8 L347.2,1452.7 L346.4,1453.6 L345.4,1454.4 L344.3,1455.2 L343.2,1456.0 L341.9,1456.7 L340.5,1457.4 L339.0,1458.0 L337.5,1458.6 L335.9,1459.1 L334.2,1459.6 L332.4,1460.0 L330.6,1460.3 L328.8,1460.6 L326.9,1460.8 L325.0,1460.9 L323.1,1461.0 L321.1,1461.0 L319.2,1460.9 L317.3,1460.8 L315.4,1460.6 L313.6,1460.3 L311.8,1460.0 L310.0,1459.6 L308.4,1459.1 L306.7,1458.6 L305.2,1458.0 L303.7,1457.4 L302.3,1456.7 L301.0,1456.0 L299.9,1455.2 L298.8,1454.4 L297.8,1453.6 L297.0,1452.7 L296.3,1451.8 L295.7,1450.9 L295.2,1449.9 L294.9,1448.9 L294.7,1448.0 L294.6,1447.0" stroke-width="2.02" style="fill:#fff"/>
<path d="M294.6,1427.0 L294.6,1447.0" stroke-width="1.57" />
<path d="M349.6,1427.0 L349.6,1447.0" stroke-width="2.02" />
<path d="M294.6,1427.0 L294.6,1447.0 L294.7,1448.0 L294.9,1448.9 L295.2,1449.9 L295.7,1450.9 L296.3,1451.8 L297.0,1452.7 L297.8,1453.6 L298.8,1454.4 L299.9,1455.2 L301.0,1456.0 L302.3,1456.7 L303.7,1457.4 L305.2,1458.0 L306.7,1458.6 L308.4,1459.1 L310.0,1459.6 L311.8,1460.0 L313.6,1460.3 L315.4,1460.6 L317.3,1460.8 L319.2,1460.9 L321.1,1461.0 L323.1,1461.0 L325.0,1460.9 L326.9,1460.8 L328.8,1460.6 L330.6,1460.3 L332.4,1460.0 L334.2,1459.6 L335.9,1459.1 L337.5,1458.6 L339.0,1458.0 L340.5,1457.4 L341.9,1456.7 L343.2,1456.0 L344.3,1455.2 L345.4,1454.4 L346.4,1453.6 L347.2,1452.7 L347.9,1451.8 L348.5,1450.9 L349.0,1449.9 L349.3,1448.9 L349.5,1448.0 L349.6,1447.0 L349.6,1427.0 L349.6,1427.0 L349.5,1427.9 L349.3,1428.8 L349.0,1429.7 L348.5,1430.6 L347.9,1431.4 L347.2,1432.2 L346.4,1433.1 L345.4,1433.8 L344.3,1434.6 L343.2,1435.3 L341.9,1436.0 L340.5,1436.6 L339.0,1437.2 L337.5,1437.7 L335.9,1438.2 L334.2,1438.6 L332.4,1439.0 L330.6,1439.3 L328.8,1439.5 L326.9,1439.7 L325.0,1439.8 L323.1,1439.9 L321.1,1439.9 L319.2,1439.8 L317.3,1439.7 L315.4,1439.5 L313.6,1439.3 L311.8,1439.0 L310.0,1438.6 L308.4,1438.2 L306.7,1437.7 L305.2,1437.2 L303.7,1436.6 L302.3,1436.0 L301.0,1435.3 L299.9,1434.6 L298.8,1433.8 L297.8,1433.1 L297.0,1432.2 L296.3,1431.4 L295.7,1430.6 L295.2,1429.7 L294.9,1428.8 L294.7,1427.9 L294.6,1427.0" stroke-width="0.11" style="fill:#fff;stroke:none"/>
<path d="M349.6,1427.0 L349.5,1427.9 L349.3,1428.8 L349.0,1429.7 L348.5,1430.6 L347.9,1431.4 L347.2,1432.2 L346.4,1433.1 L345.4,1433.8 L344.3,1434.6 L343.2,1435.3 L341.9,1436.0 L340.5,1436.6 L339.0,1437.2 L337.5,1437.7 L335.9,1438.2 L334.2,1438.6 L332.4,1439.0 L330.6,1439.3 L328.8,1439.5 L326.9,1439.7 L325.0,1439.8 L323.1,1439.9 L321.1,1439.9 L319.2,1439.8 L317.3,1439.7 L315.4,1439.5 L313.6,1439.3 L311.8,1439.0 L310.0,1438.6 L308.4,1438.2 L306.7,1437.7 L305.2,1437.2 L303.7,1436.6 L302.3,1436.0 L301.0,1435.3 L299.9,1434.6 L298.8,1433.8 L297.8,1433.1 L297.0,1432.2 L296.3,1431.4 L295.7,1430.6 L295.2,1429.7 L294.9,1428.8 L294.7,1427.9 L294.6,1427.0 L294.7,1426.1 L294.9,1425.2 L295.2,1424.3 L295.7,1423.4 L296.3,1422.6 L297.0,1421.8 L297.8,1420.9 L298.8,1420.2 L299.9,1419.4 L301.0,1418.7 L302.3,1418.0 L303.7,1417.4 L305.2,1416.8 L306.7,1416.3 L308.4,1415.8 L310.0,1415.4 L311.8,1415.0 L313.6,1414.7 L315.4,1414.5 L317.3,1414.3 L319.2,1414.2 L321.1,1414.1 L323.1,1414.1 L325.0,1414.2 L326.9,1414.3 L328.8,1414.5 L330.6,1414.7 L332.4,1415.0 L334.2,1415.4 L335.9,1415.8 L337.5,1416.3 L339.0,1416.8 L340.5,1417.4 L341.9,1418.0 L343.2,1418.7 L344.3,1419.4 L345.4,1420.2 L346.4,1420.9 L347.2,1421.8 L347.9,1422.6 L348.5,1423.4 L349.0,1424.3 L349.3,1425.2 L349.5,1426.1 L349.6,1427.0Z" stroke-width="0.11" style="fill:#fff;stroke:none"/>
<path d="M295.2,1433.7 L299.3,1454.8 M296.9,1436.1 L302.8,1457.0 M299.6,1438.4 L307.1,1458.7 M303.2,1440.4 L312.0,1460.0 M307.5,1441.9 L317.3,1460.8 M312.5,1443.1 L322.8,1461.0 M317.8,1443.7 L328.3,1460.6 M323.3,1443.9 L333.5,1459.7 M328.8,1443.5 L338.3,1458.3 M333.9,1442.6 L342.4,1456.5 M338.6,1441.3 L345.7,1454.2 M342.7,1439.5 L348.0,1451.7 M345.9,1437.5 L349.3,1448.9" stroke-width="1.57" />
<path d="M294.6,1427.0 L294.7,1426.1 L294.9,1425.2 L295.2,1424.3 L295.7,1423.4 L296.3,1422.6 L297.0,1421.8 L297.8,1420.9 L298.8,1420.2 L299.9,1419.4 L301.0,1418.7 L302.3,1418.0 L303.7,1417.4 L305.2,1416.8 L306.7,1416.3 L308.4,1415.8 L310.0,1415.4 L311.8,1415.0 L313.6,1414.7 L315.4,1414.5 L317.3,1414.3 L319.2,1414.2 L321.1,1414.1 L323.1,1414.1 L325.0,1414.2 L326.9,1414.3 L328.8,1414.5 L330.6,1414.7 L332.4,1415.0 L334.2,1415.4 L335.9,1415.8 L337.5,1416.3 L339.0,1416.8 L340.5,1417.4 L341.9,1418.0 L343.2,1418.7 L344.3,1419.4 L345.4,1420.2 L346.4,1420.9 L347.2,1421.8 L347.9,1422.6 L348.5,1423.4 L349.0,1424.3 L349.3,1425.2 L349.5,1426.1 L349.6,1427.0" stroke-width="1.46" stroke-dasharray="1.6 1.8"/>
<path d="M341.4,1428.0 L341.4,1428.6 L341.2,1429.2 L341.0,1429.8 L340.7,1430.4 L340.2,1431.0 L339.7,1431.6 L339.1,1432.1 L338.5,1432.7 L337.7,1433.2 L336.9,1433.7 L336.0,1434.1 L335.0,1434.5 L334.0,1434.9 L332.9,1435.3 L331.8,1435.6 L330.6,1435.9 L329.3,1436.2 L328.1,1436.4 L326.8,1436.5 L325.5,1436.7 L324.1,1436.8 L322.8,1436.8 L321.4,1436.8 L320.1,1436.8 L318.7,1436.7 L317.4,1436.5 L316.1,1436.4 L314.9,1436.2 L313.6,1435.9 L312.5,1435.6 L311.3,1435.3 L310.2,1434.9 L309.2,1434.5 L308.2,1434.1 L307.3,1433.7 L306.5,1433.2 L305.7,1432.7 L305.1,1432.1 L304.5,1431.6 L304.0,1431.0 L303.5,1430.4 L303.2,1429.8 L303.0,1429.2 L302.8,1428.6 L302.8,1428.0 L302.8,1427.4 L303.0,1426.8 L303.2,1426.2 L303.5,1425.6 L304.0,1425.0 L304.5,1424.4 L305.1,1423.9 L305.7,1423.3 L306.5,1422.8 L307.3,1422.3 L308.2,1421.9 L309.2,1421.5 L310.2,1421.1 L311.3,1420.7 L312.4,1420.4 L313.6,1420.1 L314.9,1419.8 L316.1,1419.6 L317.4,1419.5 L318.7,1419.3 L320.1,1419.2 L321.4,1419.2 L322.8,1419.2 L324.1,1419.2 L325.5,1419.3 L326.8,1419.5 L328.1,1419.6 L329.3,1419.8 L330.6,1420.1 L331.8,1420.4 L332.9,1420.7 L334.0,1421.1 L335.0,1421.5 L336.0,1421.9 L336.9,1422.3 L337.7,1422.8 L338.5,1423.3 L339.1,1423.9 L339.7,1424.4 L340.2,1425.0 L340.7,1425.6 L341.0,1426.2 L341.2,1426.8 L341.4,1427.4 L341.4,1428.0" stroke-width="1.90" />
<path d="M338.1,1429.5 L338.1,1430.0 L337.9,1430.4 L337.8,1430.9 L337.5,1431.3 L337.1,1431.7 L336.7,1432.1 L336.2,1432.6 L335.7,1432.9 L335.0,1433.3 L334.4,1433.7 L333.6,1434.0 L332.8,1434.3 L332.0,1434.6 L331.0,1434.9 L330.1,1435.1 L329.1,1435.3 L328.1,1435.5 L327.0,1435.7 L326.0,1435.8 L324.9,1435.9 L323.8,1436.0 L322.7,1436.0 L321.5,1436.0 L320.4,1436.0 L319.3,1435.9 L318.2,1435.8 L317.2,1435.7 L316.1,1435.5 L315.1,1435.3 L314.1,1435.1 L313.2,1434.9 L312.2,1434.6 L311.4,1434.3 L310.6,1434.0 L309.8,1433.7 L309.2,1433.3 L308.5,1432.9 L308.0,1432.6 L307.5,1432.1 L307.1,1431.7 L306.7,1431.3 L306.4,1430.9 L306.3,1430.4 L306.1,1430.0 L306.1,1429.5" stroke-width="1.23" />
<path d="M271.6,1485.6 C275.2,1485.2 289.3,1482.0 293.3,1483.1 C297.4,1484.2 296.2,1489.0 295.8,1492.3 C295.4,1495.7 294.0,1501.7 290.8,1503.2 C287.6,1504.7 279.9,1503.3 276.6,1501.5 C273.3,1499.7 271.6,1495.0 270.8,1492.3 C269.9,1489.7 271.4,1486.7 271.6,1485.6" stroke-width="1.79" style="fill:#fff"/>
<path d="M269.9,1492.3 C270.5,1493.7 270.8,1498.2 273.3,1500.7 C275.8,1503.2 280.5,1505.8 285.0,1507.4 C289.4,1508.9 297.5,1509.5 300.0,1509.9" stroke-width="1.34" /></svg>
<div class="t b" id="pg" style="left:1116px;top:82.7px;font-size:24px">AT-73</div>
<div class="t b" id="hd1" style="left:246px;top:115.6px;font-size:17px">A340E(Others)</div>
<div class="t b" id="hd2" style="left:374px;top:115.6px;font-size:17px">AUTOMATIC TRANSMISSION</div>
<div class="t" id="hd3" style="left:629px;top:115.6px;font-size:17px">-</div>
<div class="t" id="hd4" style="left:663px;top:115.6px;font-size:17px">PLANETARY SUN GEAR</div>
<div class="hr" style="left:85px;top:135.5px;width:1108px;height:2px"></div>
<div class="t b" id="ti1" style="left:553px;top:156.5px;font-size:34.5px">PLANETARY SUN GEAR</div>
<div class="t b" id="ti2" style="left:553px;top:197.2px;font-size:30.1px">COMPONENTS</div>
<div class="t" id="c1" style="left:1137.6px;top:192px;font-size:9.1px;letter-spacing:-0.2px">AT05V-03</div>


<div class="lb" style="left:802.5px;top:386.1px;letter-spacing:0.22px">Thrust Washer</div>
<div class="lb" style="left:170px;top:482px;letter-spacing:0.24px">Planetary Sun Gear</div>
<div class="lb" style="left:114.5px;top:535.9px;letter-spacing:0.5px">Snap Ring</div>
<div class="lb" style="left:425.5px;top:790.8px;letter-spacing:0.58px">Oil Seal Ring</div>
<div class="lb" style="left:541.8px;top:837.7px;letter-spacing:0.76px">Sun Gear Input Drum</div>
<div class="lb" style="left:772.6px;top:776.4px;letter-spacing:0.56px">Snap Ring</div>
<div class="lb" style="left:901.5px;top:705.2px;letter-spacing:0.21px">Assembled No. <b>1</b> One-Way</div>
<div class="lb" style="left:901px;top:726.4px;letter-spacing:0.4px">Clutch and Second Brake</div>
<div class="lb" style="left:901px;top:747.3px;letter-spacing:0.4px">Hub</div>
<div class="lb" style="left:378px;top:1090px;font-size:20px">Free</div>
<div class="lb" style="left:377.5px;top:1111.8px;font-size:20px">Lock</div>
<div class="lb" style="left:171.5px;top:1276.8px;font-size:20px;letter-spacing:1.1px">Hold</div>
<div class="lb" style="left:337px;top:1271.2px;font-size:20px;letter-spacing:0.67px">Turn</div>
<div class="box" style="left:86px;top:312.5px;width:1110.5px;height:738.5px"></div>
<div class="t" id="c2" style="left:1129.3px;top:1025.2px;font-size:11.7px;letter-spacing:2.05px">AT4457</div>

<div class="t" id="c3" style="left:1138px;top:1076px;font-size:8.5px">AT05W-04</div>
<div class="t b" id="ti3" style="left:553px;top:1081.3px;font-size:29.88px">PLANETARY SUN GEAR AND NO.1</div>
<div class="t b" id="ti4" style="left:553.8px;top:1123.6px;font-size:29.82px">ONE-W AY CLUTCH DISASSEMBLY</div>
<div class="t b" id="s1n" style="left:553px;top:1164.5px;font-size:23.8px">1.</div>
<div class="t b" id="s1h" style="left:604px;top:1164.5px;font-size:23.8px;word-spacing:1.2px">CHECK OPERATION OF NO.1 ONE-WAY CLUTCH</div>
<div class="p" id="s1p" style="left:605px;top:1191.6px;width:589px">Hold the planetary sun gear and turn the second brake hub. Check that the second brake hub must be able to turn freely clockwise and locks counterclockwise.</div>

<div class="box" style="left:86px;top:1084px;width:433px;height:276px"></div>
<div class="t" id="c4" style="left:457.6px;top:1343px;font-size:13px;letter-spacing:1.24px">AT8440</div>

<div class="box" style="left:86px;top:1392.5px;width:433px;height:276px"></div>
<div class="t" id="c5" style="left:461.2px;top:1653px;font-size:13px;letter-spacing:1.3px">AT8188</div>

<div class="t b" id="s2n" style="left:552px;top:1391px;font-size:23.8px">2.</div>
<div class="p b" id="s2p" style="left:605px;top:1387px;width:589.5px;text-align-last:justify;letter-spacing:0.55px">REMOVE ASSEMBLED NO.1 <span style="display:inline-block">ONE- WAY</span> CLUTCH</div>
<div class="p b" id="s2q" style="left:605px;top:1418px;width:589px">AND SECOND BRAKE HUB</div>

</body></html>
